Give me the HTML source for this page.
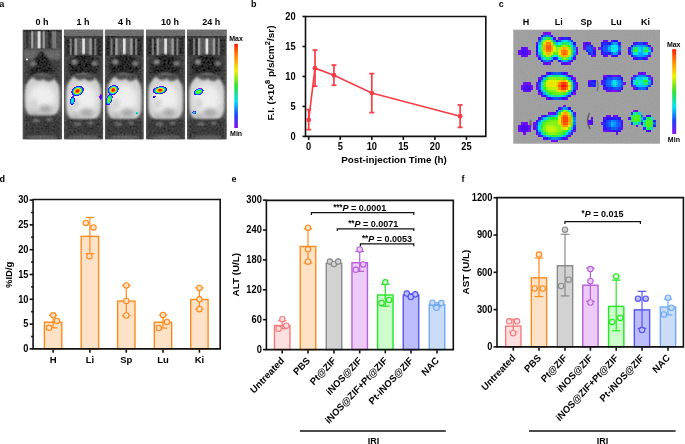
<!DOCTYPE html>
<html><head><meta charset="utf-8"><style>
html,body{margin:0;padding:0;background:#fff;width:685px;height:444px;overflow:hidden}
svg{display:block;font-family:"Liberation Sans", sans-serif;will-change:transform}
</style></head><body>
<svg width="685" height="444" viewBox="0 0 685 444">
<defs><filter id="cnoise" x="0" y="0" width="100%" height="100%"><feTurbulence type="fractalNoise" baseFrequency="0.6" numOctaves="1" seed="11" result="n"/><feColorMatrix in="n" type="matrix" values="0.33 0.33 0.33 0 0  0.33 0.33 0.33 0 0  0.33 0.33 0.33 0 0  0 0 0 0 1" result="m"/><feComposite in="SourceGraphic" in2="m" operator="arithmetic" k1="0" k2="1" k3="0.12" k4="-0.06" result="c"/><feGaussianBlur in="c" stdDeviation="0.35"/></filter><filter id="tex0" x="0" y="0" width="100%" height="100%"><feTurbulence type="fractalNoise" baseFrequency="0.5" numOctaves="2" seed="3" result="n"/><feColorMatrix in="n" type="matrix" values="0.33 0.33 0.33 0 0  0.33 0.33 0.33 0 0  0.33 0.33 0.33 0 0  0 0 0 0 1" result="m"/><feComposite in="SourceGraphic" in2="m" operator="arithmetic" k1="0" k2="1" k3="0.16" k4="-0.08" result="c"/><feGaussianBlur in="c" stdDeviation="0.4"/></filter><filter id="tex1" x="0" y="0" width="100%" height="100%"><feTurbulence type="fractalNoise" baseFrequency="0.5" numOctaves="2" seed="4" result="n"/><feColorMatrix in="n" type="matrix" values="0.33 0.33 0.33 0 0  0.33 0.33 0.33 0 0  0.33 0.33 0.33 0 0  0 0 0 0 1" result="m"/><feComposite in="SourceGraphic" in2="m" operator="arithmetic" k1="0" k2="1" k3="0.16" k4="-0.08" result="c"/><feGaussianBlur in="c" stdDeviation="0.4"/></filter><filter id="tex2" x="0" y="0" width="100%" height="100%"><feTurbulence type="fractalNoise" baseFrequency="0.5" numOctaves="2" seed="5" result="n"/><feColorMatrix in="n" type="matrix" values="0.33 0.33 0.33 0 0  0.33 0.33 0.33 0 0  0.33 0.33 0.33 0 0  0 0 0 0 1" result="m"/><feComposite in="SourceGraphic" in2="m" operator="arithmetic" k1="0" k2="1" k3="0.16" k4="-0.08" result="c"/><feGaussianBlur in="c" stdDeviation="0.4"/></filter><filter id="tex3" x="0" y="0" width="100%" height="100%"><feTurbulence type="fractalNoise" baseFrequency="0.5" numOctaves="2" seed="6" result="n"/><feColorMatrix in="n" type="matrix" values="0.33 0.33 0.33 0 0  0.33 0.33 0.33 0 0  0.33 0.33 0.33 0 0  0 0 0 0 1" result="m"/><feComposite in="SourceGraphic" in2="m" operator="arithmetic" k1="0" k2="1" k3="0.16" k4="-0.08" result="c"/><feGaussianBlur in="c" stdDeviation="0.4"/></filter><filter id="tex4" x="0" y="0" width="100%" height="100%"><feTurbulence type="fractalNoise" baseFrequency="0.5" numOctaves="2" seed="7" result="n"/><feColorMatrix in="n" type="matrix" values="0.33 0.33 0.33 0 0  0.33 0.33 0.33 0 0  0.33 0.33 0.33 0 0  0 0 0 0 1" result="m"/><feComposite in="SourceGraphic" in2="m" operator="arithmetic" k1="0" k2="1" k3="0.16" k4="-0.08" result="c"/><feGaussianBlur in="c" stdDeviation="0.4"/></filter>
<filter id="b04" x="-10%" y="-10%" width="120%" height="120%"><feGaussianBlur stdDeviation="0.35"/></filter>
<filter id="b06" x="-20%" y="-20%" width="140%" height="140%"><feGaussianBlur stdDeviation="0.6"/></filter>
<filter id="b05" x="-50%" y="-50%" width="200%" height="200%"><feGaussianBlur stdDeviation="0.5"/></filter>
<filter id="b1" x="-50%" y="-50%" width="200%" height="200%"><feGaussianBlur stdDeviation="1"/></filter>
<filter id="b2" x="-50%" y="-50%" width="200%" height="200%"><feGaussianBlur stdDeviation="2"/></filter>
<filter id="b3" x="-50%" y="-50%" width="200%" height="200%"><feGaussianBlur stdDeviation="3"/></filter>
<linearGradient id="jetv" x1="0" y1="0" x2="0" y2="1">
<stop offset="0" stop-color="#ff1a00"/><stop offset="0.15" stop-color="#ff8c00"/><stop offset="0.32" stop-color="#f0f000"/>
<stop offset="0.5" stop-color="#30e030"/><stop offset="0.68" stop-color="#00e0f0"/><stop offset="0.85" stop-color="#1a40ff"/><stop offset="1" stop-color="#8a10f0"/>
</linearGradient>
<pattern id="noise" width="4" height="4" patternUnits="userSpaceOnUse"><rect width="2" height="2" fill="#777"/><rect x="2" y="2" width="2" height="2" fill="#ccc"/></pattern>
</defs>
<text transform="translate(-0.70 7.30) scale(1 1.0)" font-size="9" text-anchor="start" font-weight="bold" >a</text>
<text transform="translate(251.00 7.30) scale(1 1.0)" font-size="9" text-anchor="start" font-weight="bold" >b</text>
<text transform="translate(498.80 7.30) scale(1 1.0)" font-size="9" text-anchor="start" font-weight="bold" >c</text>
<text transform="translate(-0.50 182.20) scale(1 1.0)" font-size="9" text-anchor="start" font-weight="bold" >d</text>
<text transform="translate(231.60 182.20) scale(1 1.0)" font-size="9" text-anchor="start" font-weight="bold" >e</text>
<text transform="translate(461.50 182.20) scale(1 1.0)" font-size="9" text-anchor="start" font-weight="bold" >f</text>
<clipPath id="mclip0"><rect x="22.5" y="29.5" width="39.5" height="110.0"/></clipPath>
<g clip-path="url(#mclip0)"><g filter="url(#tex0)">
<rect x="22.5" y="29.5" width="39.5" height="110.0" fill="#555"/>
<rect x="23.7" y="30.0" width="37.1" height="19.799999999999997" fill="#4c4c4c"/>
<rect x="23.7" y="30.0" width="37.1" height="2" fill="#333"/>
<rect x="26.15" y="31.2" width="2.2" height="17.299999999999997" fill="#303030" filter="url(#b05)"/>
<rect x="31.25" y="31.2" width="2.0" height="17.299999999999997" fill="#a8a8a8" filter="url(#b05)"/>
<rect x="34.75" y="31.2" width="2" height="17.299999999999997" fill="#606060" filter="url(#b05)"/>
<rect x="37.55" y="31.2" width="3.0" height="17.299999999999997" fill="#dedede" filter="url(#b05)"/>
<rect x="42.65" y="31.2" width="2.2" height="17.299999999999997" fill="#9a9a9a" filter="url(#b05)"/>
<rect x="48.40" y="31.2" width="2.5" height="17.299999999999997" fill="#2e2e2e" filter="url(#b05)"/>
<rect x="52.25" y="31.2" width="4" height="17.299999999999997" fill="#7a7a7a" filter="url(#b05)"/>
<rect x="24.0" y="49.8" width="36.5" height="34.2" fill="#404040" filter="url(#b1)"/>
<rect x="24.0" y="49.8" width="36.5" height="10" fill="#686868" filter="url(#b1)"/>
<path d="M41.6,50.3 L49.8,60.8 L54.2,76.0 L29.2,76.0 L33.2,60.8 Z" fill="#262626" filter="url(#b1)"/>
<ellipse cx="27.0" cy="59.5" rx="1" ry="1" fill="#fff"/>
<ellipse cx="33.2" cy="63.8" rx="3" ry="3" fill="#777" filter="url(#b1)"/>
<path d="M42.2,74.0 C51.2,74.0 59.5,81.0 59.5,92.0 L59.5,104.5 C59.5,113.5 52.2,118.5 42.2,118.5 C32.2,118.5 25.0,113.5 25.0,104.5 L25.0,92.0 C25.0,81.0 33.2,74.0 42.2,74.0 Z" fill="#cdcdcd" filter="url(#b1)"/>
<ellipse cx="42.2" cy="97.8" rx="13.8" ry="13.8" fill="#eeeeee" filter="url(#b3)"/>
<path d="M32.2,77.0 Q38.2,83.0 43.2,79.0 Q48.2,84.0 54.2,79.0 L54.2,74.0 L32.2,74.0 Z" fill="#505050" filter="url(#b1)"/>
<ellipse cx="45.2" cy="109.5" rx="7" ry="4.5" fill="#aaaaaa" filter="url(#b2)"/>
<ellipse cx="34.2" cy="113.5" rx="4" ry="3" fill="#b0b0b0" filter="url(#b2)"/>
<ellipse cx="34.2" cy="104.0" rx="3" ry="5" fill="#cccccc" filter="url(#b2)"/>
<rect x="24.0" y="115.5" width="36.5" height="24.0" fill="#3a3a3a" filter="url(#b1)"/>
<ellipse cx="36.2" cy="120.5" rx="4" ry="2" fill="#6a6a6a" filter="url(#b1)"/>
<ellipse cx="49.2" cy="119.5" rx="3" ry="1.6" fill="#777" filter="url(#b1)"/>
<ellipse cx="42.2" cy="137.5" rx="15.8" ry="2.5" fill="#606060" filter="url(#b1)"/>
</g></g>
<text transform="translate(41.90 24.70) scale(1 1.0)" font-size="9" text-anchor="middle" font-weight="bold" >0 h</text>
<clipPath id="mclip1"><rect x="63.8" y="29.5" width="39.5" height="110.0"/></clipPath>
<g clip-path="url(#mclip1)"><g filter="url(#tex1)">
<rect x="63.8" y="29.5" width="39.5" height="110.0" fill="#555"/>
<rect x="63.8" y="29.5" width="39.5" height="7.2" fill="#6e6e6e"/>
<rect x="63.8" y="36.1" width="39.5" height="1.2" fill="#333"/>
<rect x="65.0" y="37.3" width="37.1" height="19.200000000000003" fill="#3a3a3a"/>
<rect x="74.35" y="38.3" width="18" height="17.200000000000003" fill="#646464" filter="url(#b05)"/>
<rect x="66.30" y="38.5" width="2.5" height="16.700000000000003" fill="#2e2e2e" filter="url(#b05)"/>
<rect x="69.75" y="38.5" width="2.0" height="16.700000000000003" fill="#7a7a7a" filter="url(#b05)"/>
<rect x="72.50" y="38.5" width="1.5" height="16.700000000000003" fill="#303030" filter="url(#b05)"/>
<rect x="74.65" y="38.5" width="2.2" height="16.700000000000003" fill="#a0a0a0" filter="url(#b05)"/>
<rect x="78.55" y="38.5" width="2" height="16.700000000000003" fill="#5a5a5a" filter="url(#b05)"/>
<rect x="82.25" y="38.5" width="2.6" height="16.700000000000003" fill="#e4e4e4" filter="url(#b05)"/>
<rect x="86.15" y="38.5" width="2" height="16.700000000000003" fill="#5a5a5a" filter="url(#b05)"/>
<rect x="89.45" y="38.5" width="2.2" height="16.700000000000003" fill="#9a9a9a" filter="url(#b05)"/>
<rect x="92.60" y="38.5" width="1.5" height="16.700000000000003" fill="#303030" filter="url(#b05)"/>
<rect x="94.35" y="38.5" width="2.0" height="16.700000000000003" fill="#7a7a7a" filter="url(#b05)"/>
<rect x="97.80" y="38.5" width="2.5" height="16.700000000000003" fill="#2e2e2e" filter="url(#b05)"/>
<rect x="65.3" y="56.5" width="36.5" height="27.0" fill="#404040" filter="url(#b1)"/>
<ellipse cx="83.5" cy="66.5" rx="15" ry="12" fill="#262626" filter="url(#b1)"/>
<ellipse cx="74.5" cy="62.0" rx="3.2" ry="2.8" fill="#8a8a8a" filter="url(#b1)"/>
<ellipse cx="94.5" cy="63.5" rx="3.2" ry="2.8" fill="#7a7a7a" filter="url(#b1)"/>
<path d="M83.5,73.5 C92.5,73.5 100.8,80.5 100.8,91.5 L100.8,108.0 C100.8,117.0 93.5,122.0 83.5,122.0 C73.5,122.0 66.3,117.0 66.3,108.0 L66.3,91.5 C66.3,80.5 74.5,73.5 83.5,73.5 Z" fill="#cdcdcd" filter="url(#b1)"/>
<ellipse cx="83.5" cy="99.2" rx="13.8" ry="15.8" fill="#eeeeee" filter="url(#b3)"/>
<path d="M73.5,76.5 Q79.5,82.5 84.5,78.5 Q89.5,83.5 95.5,78.5 L95.5,73.5 L73.5,73.5 Z" fill="#505050" filter="url(#b1)"/>
<ellipse cx="86.5" cy="113.0" rx="7" ry="4.5" fill="#aaaaaa" filter="url(#b2)"/>
<ellipse cx="75.5" cy="117.0" rx="4" ry="3" fill="#b0b0b0" filter="url(#b2)"/>
<ellipse cx="75.5" cy="103.5" rx="3" ry="5" fill="#cccccc" filter="url(#b2)"/>
<rect x="65.3" y="119.0" width="36.5" height="20.5" fill="#3a3a3a" filter="url(#b1)"/>
<ellipse cx="77.5" cy="124.0" rx="4" ry="2" fill="#6a6a6a" filter="url(#b1)"/>
<ellipse cx="90.5" cy="123.0" rx="3" ry="1.6" fill="#777" filter="url(#b1)"/>
<ellipse cx="83.5" cy="137.5" rx="15.8" ry="2.5" fill="#606060" filter="url(#b1)"/>
</g></g>
<text transform="translate(83.00 24.70) scale(1 1.0)" font-size="9" text-anchor="middle" font-weight="bold" >1 h</text>
<clipPath id="mclip2"><rect x="104.8" y="29.5" width="39.000000000000014" height="110.0"/></clipPath>
<g clip-path="url(#mclip2)"><g filter="url(#tex2)">
<rect x="104.8" y="29.5" width="39.000000000000014" height="110.0" fill="#555"/>
<rect x="104.8" y="29.5" width="39.000000000000014" height="7.2" fill="#6e6e6e"/>
<rect x="104.8" y="36.1" width="39.000000000000014" height="1.2" fill="#333"/>
<rect x="106.0" y="37.3" width="36.600000000000016" height="19.200000000000003" fill="#3a3a3a"/>
<rect x="115.10" y="38.3" width="18" height="17.200000000000003" fill="#646464" filter="url(#b05)"/>
<rect x="107.05" y="38.5" width="2.5" height="16.700000000000003" fill="#2e2e2e" filter="url(#b05)"/>
<rect x="110.50" y="38.5" width="2.0" height="16.700000000000003" fill="#7a7a7a" filter="url(#b05)"/>
<rect x="113.25" y="38.5" width="1.5" height="16.700000000000003" fill="#303030" filter="url(#b05)"/>
<rect x="115.40" y="38.5" width="2.2" height="16.700000000000003" fill="#a0a0a0" filter="url(#b05)"/>
<rect x="119.30" y="38.5" width="2" height="16.700000000000003" fill="#5a5a5a" filter="url(#b05)"/>
<rect x="123.00" y="38.5" width="2.6" height="16.700000000000003" fill="#e4e4e4" filter="url(#b05)"/>
<rect x="126.90" y="38.5" width="2" height="16.700000000000003" fill="#5a5a5a" filter="url(#b05)"/>
<rect x="130.20" y="38.5" width="2.2" height="16.700000000000003" fill="#9a9a9a" filter="url(#b05)"/>
<rect x="133.35" y="38.5" width="1.5" height="16.700000000000003" fill="#303030" filter="url(#b05)"/>
<rect x="135.10" y="38.5" width="2.0" height="16.700000000000003" fill="#7a7a7a" filter="url(#b05)"/>
<rect x="138.55" y="38.5" width="2.5" height="16.700000000000003" fill="#2e2e2e" filter="url(#b05)"/>
<rect x="106.3" y="56.5" width="36.000000000000014" height="27.0" fill="#404040" filter="url(#b1)"/>
<ellipse cx="124.3" cy="66.5" rx="15" ry="12" fill="#262626" filter="url(#b1)"/>
<ellipse cx="115.3" cy="62.0" rx="3.2" ry="2.8" fill="#8a8a8a" filter="url(#b1)"/>
<ellipse cx="135.3" cy="63.5" rx="3.2" ry="2.8" fill="#7a7a7a" filter="url(#b1)"/>
<path d="M124.3,73.5 C133.3,73.5 141.3,80.5 141.3,91.5 L141.3,108.0 C141.3,117.0 134.3,122.0 124.3,122.0 C114.3,122.0 107.3,117.0 107.3,108.0 L107.3,91.5 C107.3,80.5 115.3,73.5 124.3,73.5 Z" fill="#cdcdcd" filter="url(#b1)"/>
<ellipse cx="124.3" cy="99.2" rx="13.5" ry="15.8" fill="#eeeeee" filter="url(#b3)"/>
<path d="M114.3,76.5 Q120.3,82.5 125.3,78.5 Q130.3,83.5 136.3,78.5 L136.3,73.5 L114.3,73.5 Z" fill="#505050" filter="url(#b1)"/>
<ellipse cx="127.3" cy="113.0" rx="7" ry="4.5" fill="#aaaaaa" filter="url(#b2)"/>
<ellipse cx="116.3" cy="117.0" rx="4" ry="3" fill="#b0b0b0" filter="url(#b2)"/>
<ellipse cx="116.3" cy="103.5" rx="3" ry="5" fill="#cccccc" filter="url(#b2)"/>
<rect x="106.3" y="119.0" width="36.000000000000014" height="20.5" fill="#3a3a3a" filter="url(#b1)"/>
<ellipse cx="118.3" cy="124.0" rx="4" ry="2" fill="#6a6a6a" filter="url(#b1)"/>
<ellipse cx="131.3" cy="123.0" rx="3" ry="1.6" fill="#777" filter="url(#b1)"/>
<ellipse cx="124.3" cy="137.5" rx="15.5" ry="2.5" fill="#606060" filter="url(#b1)"/>
</g></g>
<text transform="translate(124.40 24.70) scale(1 1.0)" font-size="9" text-anchor="middle" font-weight="bold" >4 h</text>
<clipPath id="mclip3"><rect x="146.0" y="29.5" width="39.19999999999999" height="110.0"/></clipPath>
<g clip-path="url(#mclip3)"><g filter="url(#tex3)">
<rect x="146.0" y="29.5" width="39.19999999999999" height="110.0" fill="#555"/>
<rect x="146.0" y="29.5" width="39.19999999999999" height="7.2" fill="#6e6e6e"/>
<rect x="146.0" y="36.1" width="39.19999999999999" height="1.2" fill="#333"/>
<rect x="147.2" y="37.3" width="36.79999999999999" height="19.200000000000003" fill="#3a3a3a"/>
<rect x="156.40" y="38.3" width="18" height="17.200000000000003" fill="#646464" filter="url(#b05)"/>
<rect x="148.35" y="38.5" width="2.5" height="16.700000000000003" fill="#2e2e2e" filter="url(#b05)"/>
<rect x="151.80" y="38.5" width="2.0" height="16.700000000000003" fill="#7a7a7a" filter="url(#b05)"/>
<rect x="154.55" y="38.5" width="1.5" height="16.700000000000003" fill="#303030" filter="url(#b05)"/>
<rect x="156.70" y="38.5" width="2.2" height="16.700000000000003" fill="#a0a0a0" filter="url(#b05)"/>
<rect x="160.60" y="38.5" width="2" height="16.700000000000003" fill="#5a5a5a" filter="url(#b05)"/>
<rect x="164.30" y="38.5" width="2.6" height="16.700000000000003" fill="#e4e4e4" filter="url(#b05)"/>
<rect x="168.20" y="38.5" width="2" height="16.700000000000003" fill="#5a5a5a" filter="url(#b05)"/>
<rect x="171.50" y="38.5" width="2.2" height="16.700000000000003" fill="#9a9a9a" filter="url(#b05)"/>
<rect x="174.65" y="38.5" width="1.5" height="16.700000000000003" fill="#303030" filter="url(#b05)"/>
<rect x="176.40" y="38.5" width="2.0" height="16.700000000000003" fill="#7a7a7a" filter="url(#b05)"/>
<rect x="179.85" y="38.5" width="2.5" height="16.700000000000003" fill="#2e2e2e" filter="url(#b05)"/>
<rect x="147.5" y="56.5" width="36.19999999999999" height="27.0" fill="#404040" filter="url(#b1)"/>
<ellipse cx="165.6" cy="66.5" rx="15" ry="12" fill="#262626" filter="url(#b1)"/>
<ellipse cx="156.6" cy="62.0" rx="3.2" ry="2.8" fill="#8a8a8a" filter="url(#b1)"/>
<ellipse cx="176.6" cy="63.5" rx="3.2" ry="2.8" fill="#7a7a7a" filter="url(#b1)"/>
<path d="M165.6,73.5 C174.6,73.5 182.7,80.5 182.7,91.5 L182.7,108.0 C182.7,117.0 175.6,122.0 165.6,122.0 C155.6,122.0 148.5,117.0 148.5,108.0 L148.5,91.5 C148.5,80.5 156.6,73.5 165.6,73.5 Z" fill="#cdcdcd" filter="url(#b1)"/>
<ellipse cx="165.6" cy="99.2" rx="13.6" ry="15.8" fill="#eeeeee" filter="url(#b3)"/>
<path d="M155.6,76.5 Q161.6,82.5 166.6,78.5 Q171.6,83.5 177.6,78.5 L177.6,73.5 L155.6,73.5 Z" fill="#505050" filter="url(#b1)"/>
<ellipse cx="168.6" cy="113.0" rx="7" ry="4.5" fill="#aaaaaa" filter="url(#b2)"/>
<ellipse cx="157.6" cy="117.0" rx="4" ry="3" fill="#b0b0b0" filter="url(#b2)"/>
<ellipse cx="157.6" cy="103.5" rx="3" ry="5" fill="#cccccc" filter="url(#b2)"/>
<rect x="147.5" y="119.0" width="36.19999999999999" height="20.5" fill="#3a3a3a" filter="url(#b1)"/>
<ellipse cx="159.6" cy="124.0" rx="4" ry="2" fill="#6a6a6a" filter="url(#b1)"/>
<ellipse cx="172.6" cy="123.0" rx="3" ry="1.6" fill="#777" filter="url(#b1)"/>
<ellipse cx="165.6" cy="137.5" rx="15.6" ry="2.5" fill="#606060" filter="url(#b1)"/>
</g></g>
<text transform="translate(170.00 24.70) scale(1 1.0)" font-size="9" text-anchor="middle" font-weight="bold" >10 h</text>
<clipPath id="mclip4"><rect x="187.0" y="29.5" width="39.80000000000001" height="110.0"/></clipPath>
<g clip-path="url(#mclip4)"><g filter="url(#tex4)">
<rect x="187.0" y="29.5" width="39.80000000000001" height="110.0" fill="#555"/>
<rect x="187.0" y="29.5" width="39.80000000000001" height="7.2" fill="#6e6e6e"/>
<rect x="187.0" y="36.1" width="39.80000000000001" height="1.2" fill="#333"/>
<rect x="188.2" y="37.3" width="37.40000000000001" height="19.200000000000003" fill="#3a3a3a"/>
<rect x="197.70" y="38.3" width="18" height="17.200000000000003" fill="#646464" filter="url(#b05)"/>
<rect x="189.65" y="38.5" width="2.5" height="16.700000000000003" fill="#2e2e2e" filter="url(#b05)"/>
<rect x="193.10" y="38.5" width="2.0" height="16.700000000000003" fill="#7a7a7a" filter="url(#b05)"/>
<rect x="195.85" y="38.5" width="1.5" height="16.700000000000003" fill="#303030" filter="url(#b05)"/>
<rect x="198.00" y="38.5" width="2.2" height="16.700000000000003" fill="#a0a0a0" filter="url(#b05)"/>
<rect x="201.90" y="38.5" width="2" height="16.700000000000003" fill="#5a5a5a" filter="url(#b05)"/>
<rect x="205.60" y="38.5" width="2.6" height="16.700000000000003" fill="#e4e4e4" filter="url(#b05)"/>
<rect x="209.50" y="38.5" width="2" height="16.700000000000003" fill="#5a5a5a" filter="url(#b05)"/>
<rect x="212.80" y="38.5" width="2.2" height="16.700000000000003" fill="#9a9a9a" filter="url(#b05)"/>
<rect x="215.95" y="38.5" width="1.5" height="16.700000000000003" fill="#303030" filter="url(#b05)"/>
<rect x="217.70" y="38.5" width="2.0" height="16.700000000000003" fill="#7a7a7a" filter="url(#b05)"/>
<rect x="221.15" y="38.5" width="2.5" height="16.700000000000003" fill="#2e2e2e" filter="url(#b05)"/>
<rect x="188.5" y="56.5" width="36.80000000000001" height="27.0" fill="#404040" filter="url(#b1)"/>
<ellipse cx="206.9" cy="66.5" rx="15" ry="12" fill="#262626" filter="url(#b1)"/>
<ellipse cx="197.9" cy="62.0" rx="3.2" ry="2.8" fill="#8a8a8a" filter="url(#b1)"/>
<ellipse cx="217.9" cy="63.5" rx="3.2" ry="2.8" fill="#7a7a7a" filter="url(#b1)"/>
<path d="M206.9,73.5 C215.9,73.5 224.3,80.5 224.3,91.5 L224.3,108.0 C224.3,117.0 216.9,122.0 206.9,122.0 C196.9,122.0 189.5,117.0 189.5,108.0 L189.5,91.5 C189.5,80.5 197.9,73.5 206.9,73.5 Z" fill="#cdcdcd" filter="url(#b1)"/>
<ellipse cx="206.9" cy="99.2" rx="13.9" ry="15.8" fill="#eeeeee" filter="url(#b3)"/>
<path d="M196.9,76.5 Q202.9,82.5 207.9,78.5 Q212.9,83.5 218.9,78.5 L218.9,73.5 L196.9,73.5 Z" fill="#505050" filter="url(#b1)"/>
<ellipse cx="209.9" cy="113.0" rx="7" ry="4.5" fill="#aaaaaa" filter="url(#b2)"/>
<ellipse cx="198.9" cy="117.0" rx="4" ry="3" fill="#b0b0b0" filter="url(#b2)"/>
<ellipse cx="198.9" cy="103.5" rx="3" ry="5" fill="#cccccc" filter="url(#b2)"/>
<rect x="188.5" y="119.0" width="36.80000000000001" height="20.5" fill="#3a3a3a" filter="url(#b1)"/>
<ellipse cx="200.9" cy="124.0" rx="4" ry="2" fill="#6a6a6a" filter="url(#b1)"/>
<ellipse cx="213.9" cy="123.0" rx="3" ry="1.6" fill="#777" filter="url(#b1)"/>
<ellipse cx="206.9" cy="137.5" rx="15.9" ry="2.5" fill="#606060" filter="url(#b1)"/>
</g></g>
<text transform="translate(211.30 24.70) scale(1 1.0)" font-size="9" text-anchor="middle" font-weight="bold" >24 h</text>
<g filter="url(#b06)" shape-rendering="crispEdges"><rect x="76.0" y="86.0" width="1.05" height="1.05" fill="#5f10f5"/><rect x="77.0" y="86.0" width="1.05" height="1.05" fill="#3510fc"/><rect x="78.0" y="86.0" width="1.05" height="1.05" fill="#2519ff"/><rect x="79.0" y="86.0" width="1.05" height="1.05" fill="#2712ff"/><rect x="80.0" y="86.0" width="1.05" height="1.05" fill="#4610f9"/><rect x="81.0" y="86.0" width="1.05" height="1.05" fill="#7510f1"/><rect x="74.0" y="87.0" width="1.05" height="1.05" fill="#5f10f5"/><rect x="75.0" y="87.0" width="1.05" height="1.05" fill="#1d3cff"/><rect x="76.0" y="87.0" width="1.05" height="1.05" fill="#08aaff"/><rect x="77.0" y="87.0" width="1.05" height="1.05" fill="#06e7dc"/><rect x="78.0" y="87.0" width="1.05" height="1.05" fill="#0ee9ae"/><rect x="79.0" y="87.0" width="1.05" height="1.05" fill="#06e7dd"/><rect x="80.0" y="87.0" width="1.05" height="1.05" fill="#08acff"/><rect x="81.0" y="87.0" width="1.05" height="1.05" fill="#1c40ff"/><rect x="82.0" y="87.0" width="1.05" height="1.05" fill="#5c10f6"/><rect x="73.0" y="88.0" width="1.05" height="1.05" fill="#4b10f8"/><rect x="74.0" y="88.0" width="1.05" height="1.05" fill="#0e7fff"/><rect x="75.0" y="88.0" width="1.05" height="1.05" fill="#15eb88"/><rect x="76.0" y="88.0" width="1.05" height="1.05" fill="#81f215"/><rect x="77.0" y="88.0" width="1.05" height="1.05" fill="#dff401"/><rect x="78.0" y="88.0" width="1.05" height="1.05" fill="#e6f200"/><rect x="79.0" y="88.0" width="1.05" height="1.05" fill="#a7f30d"/><rect x="80.0" y="88.0" width="1.05" height="1.05" fill="#30f026"/><rect x="81.0" y="88.0" width="1.05" height="1.05" fill="#02d5ff"/><rect x="82.0" y="88.0" width="1.05" height="1.05" fill="#202fff"/><rect x="83.0" y="88.0" width="1.05" height="1.05" fill="#7e10f0"/><rect x="72.0" y="89.0" width="1.05" height="1.05" fill="#6210f4"/><rect x="73.0" y="89.0" width="1.05" height="1.05" fill="#1171ff"/><rect x="74.0" y="89.0" width="1.05" height="1.05" fill="#1eed5c"/><rect x="75.0" y="89.0" width="1.05" height="1.05" fill="#e5f400"/><rect x="76.0" y="89.0" width="1.05" height="1.05" fill="#fe8e00"/><rect x="77.0" y="89.0" width="1.05" height="1.05" fill="#ff4d00"/><rect x="78.0" y="89.0" width="1.05" height="1.05" fill="#ff5f00"/><rect x="79.0" y="89.0" width="1.05" height="1.05" fill="#f6af00"/><rect x="80.0" y="89.0" width="1.05" height="1.05" fill="#baf309"/><rect x="81.0" y="89.0" width="1.05" height="1.05" fill="#1aec72"/><rect x="82.0" y="89.0" width="1.05" height="1.05" fill="#126dff"/><rect x="83.0" y="89.0" width="1.05" height="1.05" fill="#6410f4"/><rect x="72.0" y="90.0" width="1.05" height="1.05" fill="#251cff"/><rect x="73.0" y="90.0" width="1.05" height="1.05" fill="#03e6ee"/><rect x="74.0" y="90.0" width="1.05" height="1.05" fill="#a4f30d"/><rect x="75.0" y="90.0" width="1.05" height="1.05" fill="#fe8c00"/><rect x="76.0" y="90.0" width="1.05" height="1.05" fill="#ff1400"/><rect x="77.0" y="90.0" width="1.05" height="1.05" fill="#ff1400"/><rect x="78.0" y="90.0" width="1.05" height="1.05" fill="#ff1400"/><rect x="79.0" y="90.0" width="1.05" height="1.05" fill="#ff7600"/><rect x="80.0" y="90.0" width="1.05" height="1.05" fill="#e6f000"/><rect x="81.0" y="90.0" width="1.05" height="1.05" fill="#21ee49"/><rect x="82.0" y="90.0" width="1.05" height="1.05" fill="#1074ff"/><rect x="83.0" y="90.0" width="1.05" height="1.05" fill="#6610f4"/><rect x="71.0" y="91.0" width="1.05" height="1.05" fill="#7d10f0"/><rect x="72.0" y="91.0" width="1.05" height="1.05" fill="#194dff"/><rect x="73.0" y="91.0" width="1.05" height="1.05" fill="#15eb89"/><rect x="74.0" y="91.0" width="1.05" height="1.05" fill="#e4f400"/><rect x="75.0" y="91.0" width="1.05" height="1.05" fill="#ff6700"/><rect x="76.0" y="91.0" width="1.05" height="1.05" fill="#ff1400"/><rect x="77.0" y="91.0" width="1.05" height="1.05" fill="#ff1400"/><rect x="78.0" y="91.0" width="1.05" height="1.05" fill="#ff1400"/><rect x="79.0" y="91.0" width="1.05" height="1.05" fill="#fc9500"/><rect x="80.0" y="91.0" width="1.05" height="1.05" fill="#b6f309"/><rect x="81.0" y="91.0" width="1.05" height="1.05" fill="#0fe9aa"/><rect x="82.0" y="91.0" width="1.05" height="1.05" fill="#1c40ff"/><rect x="71.0" y="92.0" width="1.05" height="1.05" fill="#7a10f0"/><rect x="72.0" y="92.0" width="1.05" height="1.05" fill="#1a48ff"/><rect x="73.0" y="92.0" width="1.05" height="1.05" fill="#0ee9ae"/><rect x="74.0" y="92.0" width="1.05" height="1.05" fill="#abf30c"/><rect x="75.0" y="92.0" width="1.05" height="1.05" fill="#f7aa00"/><rect x="76.0" y="92.0" width="1.05" height="1.05" fill="#ff5900"/><rect x="77.0" y="92.0" width="1.05" height="1.05" fill="#ff5000"/><rect x="78.0" y="92.0" width="1.05" height="1.05" fill="#fc9400"/><rect x="79.0" y="92.0" width="1.05" height="1.05" fill="#e6f100"/><rect x="80.0" y="92.0" width="1.05" height="1.05" fill="#28f027"/><rect x="81.0" y="92.0" width="1.05" height="1.05" fill="#0b99ff"/><rect x="82.0" y="92.0" width="1.05" height="1.05" fill="#4a10f9"/><rect x="72.0" y="93.0" width="1.05" height="1.05" fill="#2711ff"/><rect x="73.0" y="93.0" width="1.05" height="1.05" fill="#07b4ff"/><rect x="74.0" y="93.0" width="1.05" height="1.05" fill="#23ee3d"/><rect x="75.0" y="93.0" width="1.05" height="1.05" fill="#9ff30e"/><rect x="76.0" y="93.0" width="1.05" height="1.05" fill="#e6f200"/><rect x="77.0" y="93.0" width="1.05" height="1.05" fill="#e2f400"/><rect x="78.0" y="93.0" width="1.05" height="1.05" fill="#8df212"/><rect x="79.0" y="93.0" width="1.05" height="1.05" fill="#1ded5e"/><rect x="80.0" y="93.0" width="1.05" height="1.05" fill="#0aa1ff"/><rect x="81.0" y="93.0" width="1.05" height="1.05" fill="#3410fc"/><rect x="72.0" y="94.0" width="1.05" height="1.05" fill="#6d10f3"/><rect x="73.0" y="94.0" width="1.05" height="1.05" fill="#2229ff"/><rect x="74.0" y="94.0" width="1.05" height="1.05" fill="#0b98ff"/><rect x="75.0" y="94.0" width="1.05" height="1.05" fill="#03e6ee"/><rect x="76.0" y="94.0" width="1.05" height="1.05" fill="#0ee9af"/><rect x="77.0" y="94.0" width="1.05" height="1.05" fill="#09e8cd"/><rect x="78.0" y="94.0" width="1.05" height="1.05" fill="#05bdff"/><rect x="79.0" y="94.0" width="1.05" height="1.05" fill="#1853ff"/><rect x="80.0" y="94.0" width="1.05" height="1.05" fill="#4d10f8"/><rect x="73.0" y="95.0" width="1.05" height="1.05" fill="#7f10f0"/><rect x="74.0" y="95.0" width="1.05" height="1.05" fill="#4f10f8"/><rect x="75.0" y="95.0" width="1.05" height="1.05" fill="#2a10fe"/><rect x="76.0" y="95.0" width="1.05" height="1.05" fill="#251aff"/><rect x="77.0" y="95.0" width="1.05" height="1.05" fill="#2e10fd"/><rect x="78.0" y="95.0" width="1.05" height="1.05" fill="#5610f7"/></g>
<g filter="url(#b06)" shape-rendering="crispEdges"><rect x="72.0" y="96.0" width="1.05" height="1.05" fill="#6710f4"/><rect x="73.0" y="96.0" width="1.05" height="1.05" fill="#7610f1"/><rect x="71.0" y="97.0" width="1.05" height="1.05" fill="#4010fa"/><rect x="72.0" y="97.0" width="1.05" height="1.05" fill="#165cff"/><rect x="73.0" y="97.0" width="1.05" height="1.05" fill="#1f34ff"/><rect x="71.0" y="98.0" width="1.05" height="1.05" fill="#1077ff"/><rect x="72.0" y="98.0" width="1.05" height="1.05" fill="#02d3ff"/><rect x="73.0" y="98.0" width="1.05" height="1.05" fill="#0aa0ff"/><rect x="74.0" y="98.0" width="1.05" height="1.05" fill="#5510f7"/><rect x="70.0" y="99.0" width="1.05" height="1.05" fill="#4110fa"/><rect x="71.0" y="99.0" width="1.05" height="1.05" fill="#02d1ff"/><rect x="72.0" y="99.0" width="1.05" height="1.05" fill="#08e8cf"/><rect x="73.0" y="99.0" width="1.05" height="1.05" fill="#01d9ff"/><rect x="74.0" y="99.0" width="1.05" height="1.05" fill="#3210fd"/><rect x="70.0" y="100.0" width="1.05" height="1.05" fill="#212dff"/><rect x="71.0" y="100.0" width="1.05" height="1.05" fill="#04e7e7"/><rect x="72.0" y="100.0" width="1.05" height="1.05" fill="#0be8c3"/><rect x="73.0" y="100.0" width="1.05" height="1.05" fill="#00e6fd"/><rect x="74.0" y="100.0" width="1.05" height="1.05" fill="#3010fd"/><rect x="70.0" y="101.0" width="1.05" height="1.05" fill="#1c41ff"/><rect x="71.0" y="101.0" width="1.05" height="1.05" fill="#05e7e2"/><rect x="72.0" y="101.0" width="1.05" height="1.05" fill="#0ae8c5"/><rect x="73.0" y="101.0" width="1.05" height="1.05" fill="#02d3ff"/><rect x="74.0" y="101.0" width="1.05" height="1.05" fill="#4e10f8"/><rect x="70.0" y="102.0" width="1.05" height="1.05" fill="#212aff"/><rect x="71.0" y="102.0" width="1.05" height="1.05" fill="#01ddff"/><rect x="72.0" y="102.0" width="1.05" height="1.05" fill="#04e7e7"/><rect x="73.0" y="102.0" width="1.05" height="1.05" fill="#0c92ff"/><rect x="70.0" y="103.0" width="1.05" height="1.05" fill="#4610f9"/><rect x="71.0" y="103.0" width="1.05" height="1.05" fill="#0c91ff"/><rect x="72.0" y="103.0" width="1.05" height="1.05" fill="#09a4ff"/><rect x="73.0" y="103.0" width="1.05" height="1.05" fill="#241fff"/><rect x="71.0" y="104.0" width="1.05" height="1.05" fill="#2711ff"/><rect x="72.0" y="104.0" width="1.05" height="1.05" fill="#2615ff"/></g>
<g filter="url(#b06)" shape-rendering="crispEdges"><rect x="100.0" y="94.0" width="1.05" height="1.05" fill="#7010f2"/><rect x="100.0" y="95.0" width="1.05" height="1.05" fill="#4c10f8"/><rect x="101.0" y="95.0" width="1.05" height="1.05" fill="#5610f6"/><rect x="99.0" y="96.0" width="1.05" height="1.05" fill="#6d10f3"/><rect x="100.0" y="96.0" width="1.05" height="1.05" fill="#4510f9"/><rect x="101.0" y="96.0" width="1.05" height="1.05" fill="#4910f9"/><rect x="99.0" y="97.0" width="1.05" height="1.05" fill="#6d10f3"/><rect x="100.0" y="97.0" width="1.05" height="1.05" fill="#4510f9"/><rect x="101.0" y="97.0" width="1.05" height="1.05" fill="#4910f9"/><rect x="100.0" y="98.0" width="1.05" height="1.05" fill="#4c10f8"/><rect x="101.0" y="98.0" width="1.05" height="1.05" fill="#5610f6"/><rect x="100.0" y="99.0" width="1.05" height="1.05" fill="#7010f2"/></g>
<g filter="url(#b06)" shape-rendering="crispEdges"><rect x="112.0" y="85.0" width="1.05" height="1.05" fill="#5c10f6"/><rect x="113.0" y="85.0" width="1.05" height="1.05" fill="#3e10fb"/><rect x="114.0" y="85.0" width="1.05" height="1.05" fill="#3e10fb"/><rect x="115.0" y="85.0" width="1.05" height="1.05" fill="#5b10f6"/><rect x="110.0" y="86.0" width="1.05" height="1.05" fill="#5310f7"/><rect x="111.0" y="86.0" width="1.05" height="1.05" fill="#1854ff"/><rect x="112.0" y="86.0" width="1.05" height="1.05" fill="#05bfff"/><rect x="113.0" y="86.0" width="1.05" height="1.05" fill="#04e7e4"/><rect x="114.0" y="86.0" width="1.05" height="1.05" fill="#00e6fc"/><rect x="115.0" y="86.0" width="1.05" height="1.05" fill="#0b99ff"/><rect x="116.0" y="86.0" width="1.05" height="1.05" fill="#2229ff"/><rect x="117.0" y="86.0" width="1.05" height="1.05" fill="#7310f2"/><rect x="109.0" y="87.0" width="1.05" height="1.05" fill="#4610f9"/><rect x="110.0" y="87.0" width="1.05" height="1.05" fill="#0a9fff"/><rect x="111.0" y="87.0" width="1.05" height="1.05" fill="#27ef28"/><rect x="112.0" y="87.0" width="1.05" height="1.05" fill="#bbf308"/><rect x="113.0" y="87.0" width="1.05" height="1.05" fill="#e7f000"/><rect x="114.0" y="87.0" width="1.05" height="1.05" fill="#baf309"/><rect x="115.0" y="87.0" width="1.05" height="1.05" fill="#3df023"/><rect x="116.0" y="87.0" width="1.05" height="1.05" fill="#03d0ff"/><rect x="117.0" y="87.0" width="1.05" height="1.05" fill="#251bff"/><rect x="108.0" y="88.0" width="1.05" height="1.05" fill="#6c10f3"/><rect x="109.0" y="88.0" width="1.05" height="1.05" fill="#0f7aff"/><rect x="110.0" y="88.0" width="1.05" height="1.05" fill="#3df023"/><rect x="111.0" y="88.0" width="1.05" height="1.05" fill="#f1c500"/><rect x="112.0" y="88.0" width="1.05" height="1.05" fill="#ff5e00"/><rect x="113.0" y="88.0" width="1.05" height="1.05" fill="#ff4400"/><rect x="114.0" y="88.0" width="1.05" height="1.05" fill="#ff8300"/><rect x="115.0" y="88.0" width="1.05" height="1.05" fill="#e8ea00"/><rect x="116.0" y="88.0" width="1.05" height="1.05" fill="#22ee46"/><rect x="117.0" y="88.0" width="1.05" height="1.05" fill="#1369ff"/><rect x="118.0" y="88.0" width="1.05" height="1.05" fill="#7410f2"/><rect x="108.0" y="89.0" width="1.05" height="1.05" fill="#3010fd"/><rect x="109.0" y="89.0" width="1.05" height="1.05" fill="#04e7e6"/><rect x="110.0" y="89.0" width="1.05" height="1.05" fill="#d9f402"/><rect x="111.0" y="89.0" width="1.05" height="1.05" fill="#ff5c00"/><rect x="112.0" y="89.0" width="1.05" height="1.05" fill="#ff1400"/><rect x="113.0" y="89.0" width="1.05" height="1.05" fill="#ff1400"/><rect x="114.0" y="89.0" width="1.05" height="1.05" fill="#ff1c00"/><rect x="115.0" y="89.0" width="1.05" height="1.05" fill="#f6b000"/><rect x="116.0" y="89.0" width="1.05" height="1.05" fill="#4ff11f"/><rect x="117.0" y="89.0" width="1.05" height="1.05" fill="#0e82ff"/><rect x="118.0" y="89.0" width="1.05" height="1.05" fill="#6e10f3"/><rect x="108.0" y="90.0" width="1.05" height="1.05" fill="#2229ff"/><rect x="109.0" y="90.0" width="1.05" height="1.05" fill="#12ea9d"/><rect x="110.0" y="90.0" width="1.05" height="1.05" fill="#e8eb00"/><rect x="111.0" y="90.0" width="1.05" height="1.05" fill="#ff5400"/><rect x="112.0" y="90.0" width="1.05" height="1.05" fill="#ff1400"/><rect x="113.0" y="90.0" width="1.05" height="1.05" fill="#ff1400"/><rect x="114.0" y="90.0" width="1.05" height="1.05" fill="#ff2100"/><rect x="115.0" y="90.0" width="1.05" height="1.05" fill="#f3bd00"/><rect x="116.0" y="90.0" width="1.05" height="1.05" fill="#27ef29"/><rect x="117.0" y="90.0" width="1.05" height="1.05" fill="#1659ff"/><rect x="108.0" y="91.0" width="1.05" height="1.05" fill="#2519ff"/><rect x="109.0" y="91.0" width="1.05" height="1.05" fill="#04e7e4"/><rect x="110.0" y="91.0" width="1.05" height="1.05" fill="#a0f30e"/><rect x="111.0" y="91.0" width="1.05" height="1.05" fill="#f7aa00"/><rect x="112.0" y="91.0" width="1.05" height="1.05" fill="#ff5400"/><rect x="113.0" y="91.0" width="1.05" height="1.05" fill="#ff4800"/><rect x="114.0" y="91.0" width="1.05" height="1.05" fill="#fc9700"/><rect x="115.0" y="91.0" width="1.05" height="1.05" fill="#a9f30c"/><rect x="116.0" y="91.0" width="1.05" height="1.05" fill="#01deff"/><rect x="117.0" y="91.0" width="1.05" height="1.05" fill="#3510fc"/><rect x="108.0" y="92.0" width="1.05" height="1.05" fill="#5310f7"/><rect x="109.0" y="92.0" width="1.05" height="1.05" fill="#0e84ff"/><rect x="110.0" y="92.0" width="1.05" height="1.05" fill="#1aec6f"/><rect x="111.0" y="92.0" width="1.05" height="1.05" fill="#8ff212"/><rect x="112.0" y="92.0" width="1.05" height="1.05" fill="#e5f400"/><rect x="113.0" y="92.0" width="1.05" height="1.05" fill="#ddf401"/><rect x="114.0" y="92.0" width="1.05" height="1.05" fill="#6bf119"/><rect x="115.0" y="92.0" width="1.05" height="1.05" fill="#03e6eb"/><rect x="116.0" y="92.0" width="1.05" height="1.05" fill="#212eff"/><rect x="109.0" y="93.0" width="1.05" height="1.05" fill="#3b10fb"/><rect x="110.0" y="93.0" width="1.05" height="1.05" fill="#126eff"/><rect x="111.0" y="93.0" width="1.05" height="1.05" fill="#03ceff"/><rect x="112.0" y="93.0" width="1.05" height="1.05" fill="#05e7e0"/><rect x="113.0" y="93.0" width="1.05" height="1.05" fill="#01ddff"/><rect x="114.0" y="93.0" width="1.05" height="1.05" fill="#0e82ff"/><rect x="115.0" y="93.0" width="1.05" height="1.05" fill="#2c10fe"/><rect x="110.0" y="94.0" width="1.05" height="1.05" fill="#6d10f3"/><rect x="111.0" y="94.0" width="1.05" height="1.05" fill="#4710f9"/><rect x="112.0" y="94.0" width="1.05" height="1.05" fill="#3a10fb"/><rect x="113.0" y="94.0" width="1.05" height="1.05" fill="#4d10f8"/><rect x="114.0" y="94.0" width="1.05" height="1.05" fill="#7710f1"/></g>
<g filter="url(#b06)" shape-rendering="crispEdges"><rect x="109.0" y="94.0" width="1.05" height="1.05" fill="#4410fa"/><rect x="110.0" y="94.0" width="1.05" height="1.05" fill="#241eff"/><rect x="111.0" y="94.0" width="1.05" height="1.05" fill="#5310f7"/><rect x="108.0" y="95.0" width="1.05" height="1.05" fill="#2e10fd"/><rect x="109.0" y="95.0" width="1.05" height="1.05" fill="#08abff"/><rect x="110.0" y="95.0" width="1.05" height="1.05" fill="#04c7ff"/><rect x="111.0" y="95.0" width="1.05" height="1.05" fill="#1a4aff"/><rect x="107.0" y="96.0" width="1.05" height="1.05" fill="#6510f4"/><rect x="108.0" y="96.0" width="1.05" height="1.05" fill="#05c2ff"/><rect x="109.0" y="96.0" width="1.05" height="1.05" fill="#20ee4d"/><rect x="110.0" y="96.0" width="1.05" height="1.05" fill="#1eed5d"/><rect x="111.0" y="96.0" width="1.05" height="1.05" fill="#09a2ff"/><rect x="112.0" y="96.0" width="1.05" height="1.05" fill="#7e10f0"/><rect x="107.0" y="97.0" width="1.05" height="1.05" fill="#1758ff"/><rect x="108.0" y="97.0" width="1.05" height="1.05" fill="#23ee40"/><rect x="109.0" y="97.0" width="1.05" height="1.05" fill="#63f11b"/><rect x="110.0" y="97.0" width="1.05" height="1.05" fill="#46f021"/><rect x="111.0" y="97.0" width="1.05" height="1.05" fill="#03cbff"/><rect x="112.0" y="97.0" width="1.05" height="1.05" fill="#7d10f0"/><rect x="106.0" y="98.0" width="1.05" height="1.05" fill="#7b10f0"/><rect x="107.0" y="98.0" width="1.05" height="1.05" fill="#00e4ff"/><rect x="108.0" y="98.0" width="1.05" height="1.05" fill="#61f11b"/><rect x="109.0" y="98.0" width="1.05" height="1.05" fill="#7af216"/><rect x="110.0" y="98.0" width="1.05" height="1.05" fill="#58f11d"/><rect x="111.0" y="98.0" width="1.05" height="1.05" fill="#05c0ff"/><rect x="106.0" y="99.0" width="1.05" height="1.05" fill="#3710fc"/><rect x="107.0" y="99.0" width="1.05" height="1.05" fill="#1aec6e"/><rect x="108.0" y="99.0" width="1.05" height="1.05" fill="#76f217"/><rect x="109.0" y="99.0" width="1.05" height="1.05" fill="#7cf216"/><rect x="110.0" y="99.0" width="1.05" height="1.05" fill="#49f021"/><rect x="111.0" y="99.0" width="1.05" height="1.05" fill="#0e82ff"/><rect x="106.0" y="100.0" width="1.05" height="1.05" fill="#1e3aff"/><rect x="107.0" y="100.0" width="1.05" height="1.05" fill="#25ef35"/><rect x="108.0" y="100.0" width="1.05" height="1.05" fill="#76f217"/><rect x="109.0" y="100.0" width="1.05" height="1.05" fill="#75f217"/><rect x="110.0" y="100.0" width="1.05" height="1.05" fill="#20ee52"/><rect x="111.0" y="100.0" width="1.05" height="1.05" fill="#241eff"/><rect x="106.0" y="101.0" width="1.05" height="1.05" fill="#1851ff"/><rect x="107.0" y="101.0" width="1.05" height="1.05" fill="#22ee46"/><rect x="108.0" y="101.0" width="1.05" height="1.05" fill="#63f11b"/><rect x="109.0" y="101.0" width="1.05" height="1.05" fill="#48f021"/><rect x="110.0" y="101.0" width="1.05" height="1.05" fill="#02d2ff"/><rect x="111.0" y="101.0" width="1.05" height="1.05" fill="#7810f1"/><rect x="106.0" y="102.0" width="1.05" height="1.05" fill="#1e3bff"/><rect x="107.0" y="102.0" width="1.05" height="1.05" fill="#10eaa8"/><rect x="108.0" y="102.0" width="1.05" height="1.05" fill="#24ef39"/><rect x="109.0" y="102.0" width="1.05" height="1.05" fill="#0de9b8"/><rect x="110.0" y="102.0" width="1.05" height="1.05" fill="#212aff"/><rect x="106.0" y="103.0" width="1.05" height="1.05" fill="#3710fc"/><rect x="107.0" y="103.0" width="1.05" height="1.05" fill="#09a6ff"/><rect x="108.0" y="103.0" width="1.05" height="1.05" fill="#04caff"/><rect x="109.0" y="103.0" width="1.05" height="1.05" fill="#1853ff"/><rect x="106.0" y="104.0" width="1.05" height="1.05" fill="#7a10f0"/><rect x="107.0" y="104.0" width="1.05" height="1.05" fill="#2710ff"/><rect x="108.0" y="104.0" width="1.05" height="1.05" fill="#2910fe"/><rect x="109.0" y="104.0" width="1.05" height="1.05" fill="#7e10f0"/></g>
<g filter="url(#b06)" shape-rendering="crispEdges"><rect x="136.0" y="112.0" width="1.05" height="1.05" fill="#04e7e5"/><rect x="137.0" y="112.0" width="1.05" height="1.05" fill="#1bec6d"/><rect x="136.0" y="113.0" width="1.05" height="1.05" fill="#0f7bff"/><rect x="137.0" y="113.0" width="1.05" height="1.05" fill="#04e7e5"/></g>
<g filter="url(#b06)" shape-rendering="crispEdges"><rect x="159.0" y="86.0" width="1.05" height="1.05" fill="#6e10f3"/><rect x="160.0" y="86.0" width="1.05" height="1.05" fill="#5710f6"/><rect x="161.0" y="86.0" width="1.05" height="1.05" fill="#4e10f8"/><rect x="162.0" y="86.0" width="1.05" height="1.05" fill="#5810f6"/><rect x="163.0" y="86.0" width="1.05" height="1.05" fill="#7010f2"/><rect x="156.0" y="87.0" width="1.05" height="1.05" fill="#5c10f6"/><rect x="157.0" y="87.0" width="1.05" height="1.05" fill="#1f33ff"/><rect x="158.0" y="87.0" width="1.05" height="1.05" fill="#0b98ff"/><rect x="159.0" y="87.0" width="1.05" height="1.05" fill="#02e6f4"/><rect x="160.0" y="87.0" width="1.05" height="1.05" fill="#0fe9ab"/><rect x="161.0" y="87.0" width="1.05" height="1.05" fill="#0fe9ae"/><rect x="162.0" y="87.0" width="1.05" height="1.05" fill="#01e6f4"/><rect x="163.0" y="87.0" width="1.05" height="1.05" fill="#0aa0ff"/><rect x="164.0" y="87.0" width="1.05" height="1.05" fill="#1c40ff"/><rect x="165.0" y="87.0" width="1.05" height="1.05" fill="#5010f8"/><rect x="154.0" y="88.0" width="1.05" height="1.05" fill="#7910f1"/><rect x="155.0" y="88.0" width="1.05" height="1.05" fill="#2228ff"/><rect x="156.0" y="88.0" width="1.05" height="1.05" fill="#04c5ff"/><rect x="157.0" y="88.0" width="1.05" height="1.05" fill="#2ef026"/><rect x="158.0" y="88.0" width="1.05" height="1.05" fill="#ccf405"/><rect x="159.0" y="88.0" width="1.05" height="1.05" fill="#f0c700"/><rect x="160.0" y="88.0" width="1.05" height="1.05" fill="#f5b500"/><rect x="161.0" y="88.0" width="1.05" height="1.05" fill="#eecf00"/><rect x="162.0" y="88.0" width="1.05" height="1.05" fill="#c8f406"/><rect x="163.0" y="88.0" width="1.05" height="1.05" fill="#4af020"/><rect x="164.0" y="88.0" width="1.05" height="1.05" fill="#05e7df"/><rect x="165.0" y="88.0" width="1.05" height="1.05" fill="#165bff"/><rect x="166.0" y="88.0" width="1.05" height="1.05" fill="#5910f6"/><rect x="153.0" y="89.0" width="1.05" height="1.05" fill="#7d10f0"/><rect x="154.0" y="89.0" width="1.05" height="1.05" fill="#2031ff"/><rect x="155.0" y="89.0" width="1.05" height="1.05" fill="#00e6fd"/><rect x="156.0" y="89.0" width="1.05" height="1.05" fill="#68f11a"/><rect x="157.0" y="89.0" width="1.05" height="1.05" fill="#eecf00"/><rect x="158.0" y="89.0" width="1.05" height="1.05" fill="#ff5f00"/><rect x="159.0" y="89.0" width="1.05" height="1.05" fill="#ff1400"/><rect x="160.0" y="89.0" width="1.05" height="1.05" fill="#ff1400"/><rect x="161.0" y="89.0" width="1.05" height="1.05" fill="#ff3300"/><rect x="162.0" y="89.0" width="1.05" height="1.05" fill="#fa9e00"/><rect x="163.0" y="89.0" width="1.05" height="1.05" fill="#caf405"/><rect x="164.0" y="89.0" width="1.05" height="1.05" fill="#20ee4e"/><rect x="165.0" y="89.0" width="1.05" height="1.05" fill="#0c91ff"/><rect x="166.0" y="89.0" width="1.05" height="1.05" fill="#4310fa"/><rect x="153.0" y="90.0" width="1.05" height="1.05" fill="#4a10f9"/><rect x="154.0" y="90.0" width="1.05" height="1.05" fill="#0d88ff"/><rect x="155.0" y="90.0" width="1.05" height="1.05" fill="#1eed59"/><rect x="156.0" y="90.0" width="1.05" height="1.05" fill="#bef308"/><rect x="157.0" y="90.0" width="1.05" height="1.05" fill="#f7aa00"/><rect x="158.0" y="90.0" width="1.05" height="1.05" fill="#ff3700"/><rect x="159.0" y="90.0" width="1.05" height="1.05" fill="#ff1400"/><rect x="160.0" y="90.0" width="1.05" height="1.05" fill="#ff1400"/><rect x="161.0" y="90.0" width="1.05" height="1.05" fill="#ff1600"/><rect x="162.0" y="90.0" width="1.05" height="1.05" fill="#fc9500"/><rect x="163.0" y="90.0" width="1.05" height="1.05" fill="#b6f30a"/><rect x="164.0" y="90.0" width="1.05" height="1.05" fill="#12ea9a"/><rect x="165.0" y="90.0" width="1.05" height="1.05" fill="#155eff"/><rect x="166.0" y="90.0" width="1.05" height="1.05" fill="#6510f4"/><rect x="153.0" y="91.0" width="1.05" height="1.05" fill="#4a10f9"/><rect x="154.0" y="91.0" width="1.05" height="1.05" fill="#0f7cff"/><rect x="155.0" y="91.0" width="1.05" height="1.05" fill="#14eb90"/><rect x="156.0" y="91.0" width="1.05" height="1.05" fill="#81f215"/><rect x="157.0" y="91.0" width="1.05" height="1.05" fill="#eae300"/><rect x="158.0" y="91.0" width="1.05" height="1.05" fill="#faa000"/><rect x="159.0" y="91.0" width="1.05" height="1.05" fill="#ff6a00"/><rect x="160.0" y="91.0" width="1.05" height="1.05" fill="#ff6900"/><rect x="161.0" y="91.0" width="1.05" height="1.05" fill="#f8a700"/><rect x="162.0" y="91.0" width="1.05" height="1.05" fill="#c2f407"/><rect x="163.0" y="91.0" width="1.05" height="1.05" fill="#19ec78"/><rect x="164.0" y="91.0" width="1.05" height="1.05" fill="#0f79ff"/><rect x="165.0" y="91.0" width="1.05" height="1.05" fill="#4d10f8"/><rect x="153.0" y="92.0" width="1.05" height="1.05" fill="#7b10f0"/><rect x="154.0" y="92.0" width="1.05" height="1.05" fill="#2614ff"/><rect x="155.0" y="92.0" width="1.05" height="1.05" fill="#0c8fff"/><rect x="156.0" y="92.0" width="1.05" height="1.05" fill="#09e8c9"/><rect x="157.0" y="92.0" width="1.05" height="1.05" fill="#26ef32"/><rect x="158.0" y="92.0" width="1.05" height="1.05" fill="#5bf11d"/><rect x="159.0" y="92.0" width="1.05" height="1.05" fill="#6ff118"/><rect x="160.0" y="92.0" width="1.05" height="1.05" fill="#4df020"/><rect x="161.0" y="92.0" width="1.05" height="1.05" fill="#17eb81"/><rect x="162.0" y="92.0" width="1.05" height="1.05" fill="#07afff"/><rect x="163.0" y="92.0" width="1.05" height="1.05" fill="#212bff"/><rect x="164.0" y="92.0" width="1.05" height="1.05" fill="#6e10f3"/><rect x="155.0" y="93.0" width="1.05" height="1.05" fill="#5d10f5"/><rect x="156.0" y="93.0" width="1.05" height="1.05" fill="#2b10fe"/><rect x="157.0" y="93.0" width="1.05" height="1.05" fill="#1e38ff"/><rect x="158.0" y="93.0" width="1.05" height="1.05" fill="#194dff"/><rect x="159.0" y="93.0" width="1.05" height="1.05" fill="#1b44ff"/><rect x="160.0" y="93.0" width="1.05" height="1.05" fill="#2420ff"/><rect x="161.0" y="93.0" width="1.05" height="1.05" fill="#4910f9"/><rect x="162.0" y="93.0" width="1.05" height="1.05" fill="#7d10f0"/></g>
<g filter="url(#b06)" shape-rendering="crispEdges"><rect x="153.0" y="96.0" width="1.05" height="1.05" fill="#2810fe"/><rect x="154.0" y="96.0" width="1.05" height="1.05" fill="#251aff"/><rect x="155.0" y="96.0" width="1.05" height="1.05" fill="#6a10f3"/><rect x="153.0" y="97.0" width="1.05" height="1.05" fill="#4010fa"/><rect x="154.0" y="97.0" width="1.05" height="1.05" fill="#2d10fe"/></g>
<g filter="url(#b06)" shape-rendering="crispEdges"><rect x="198.0" y="88.0" width="1.05" height="1.05" fill="#7710f1"/><rect x="199.0" y="88.0" width="1.05" height="1.05" fill="#5a10f6"/><rect x="200.0" y="88.0" width="1.05" height="1.05" fill="#5d10f5"/><rect x="201.0" y="88.0" width="1.05" height="1.05" fill="#7d10f0"/><rect x="196.0" y="89.0" width="1.05" height="1.05" fill="#4710f9"/><rect x="197.0" y="89.0" width="1.05" height="1.05" fill="#126eff"/><rect x="198.0" y="89.0" width="1.05" height="1.05" fill="#03cfff"/><rect x="199.0" y="89.0" width="1.05" height="1.05" fill="#03e6eb"/><rect x="200.0" y="89.0" width="1.05" height="1.05" fill="#02d3ff"/><rect x="201.0" y="89.0" width="1.05" height="1.05" fill="#1074ff"/><rect x="202.0" y="89.0" width="1.05" height="1.05" fill="#4110fa"/><rect x="195.0" y="90.0" width="1.05" height="1.05" fill="#2227ff"/><rect x="196.0" y="90.0" width="1.05" height="1.05" fill="#00e4ff"/><rect x="197.0" y="90.0" width="1.05" height="1.05" fill="#26ef2d"/><rect x="198.0" y="90.0" width="1.05" height="1.05" fill="#57f11d"/><rect x="199.0" y="90.0" width="1.05" height="1.05" fill="#5cf11d"/><rect x="200.0" y="90.0" width="1.05" height="1.05" fill="#37f024"/><rect x="201.0" y="90.0" width="1.05" height="1.05" fill="#0be8bf"/><rect x="202.0" y="90.0" width="1.05" height="1.05" fill="#1756ff"/><rect x="203.0" y="90.0" width="1.05" height="1.05" fill="#7f10f0"/><rect x="194.0" y="91.0" width="1.05" height="1.05" fill="#3910fb"/><rect x="195.0" y="91.0" width="1.05" height="1.05" fill="#03d0ff"/><rect x="196.0" y="91.0" width="1.05" height="1.05" fill="#33f025"/><rect x="197.0" y="91.0" width="1.05" height="1.05" fill="#72f118"/><rect x="198.0" y="91.0" width="1.05" height="1.05" fill="#7cf216"/><rect x="199.0" y="91.0" width="1.05" height="1.05" fill="#79f216"/><rect x="200.0" y="91.0" width="1.05" height="1.05" fill="#59f11d"/><rect x="201.0" y="91.0" width="1.05" height="1.05" fill="#13ea96"/><rect x="202.0" y="91.0" width="1.05" height="1.05" fill="#1756ff"/><rect x="194.0" y="92.0" width="1.05" height="1.05" fill="#1e3aff"/><rect x="195.0" y="92.0" width="1.05" height="1.05" fill="#0ae8c7"/><rect x="196.0" y="92.0" width="1.05" height="1.05" fill="#48f021"/><rect x="197.0" y="92.0" width="1.05" height="1.05" fill="#73f118"/><rect x="198.0" y="92.0" width="1.05" height="1.05" fill="#78f216"/><rect x="199.0" y="92.0" width="1.05" height="1.05" fill="#6af11a"/><rect x="200.0" y="92.0" width="1.05" height="1.05" fill="#27ef2c"/><rect x="201.0" y="92.0" width="1.05" height="1.05" fill="#05c1ff"/><rect x="202.0" y="92.0" width="1.05" height="1.05" fill="#4110fa"/><rect x="194.0" y="93.0" width="1.05" height="1.05" fill="#2615ff"/><rect x="195.0" y="93.0" width="1.05" height="1.05" fill="#05c0ff"/><rect x="196.0" y="93.0" width="1.05" height="1.05" fill="#19ec74"/><rect x="197.0" y="93.0" width="1.05" height="1.05" fill="#2cf027"/><rect x="198.0" y="93.0" width="1.05" height="1.05" fill="#28f027"/><rect x="199.0" y="93.0" width="1.05" height="1.05" fill="#15eb8d"/><rect x="200.0" y="93.0" width="1.05" height="1.05" fill="#09a4ff"/><rect x="201.0" y="93.0" width="1.05" height="1.05" fill="#3b10fb"/><rect x="194.0" y="94.0" width="1.05" height="1.05" fill="#7f10f0"/><rect x="195.0" y="94.0" width="1.05" height="1.05" fill="#2910fe"/><rect x="196.0" y="94.0" width="1.05" height="1.05" fill="#155fff"/><rect x="197.0" y="94.0" width="1.05" height="1.05" fill="#0f7dff"/><rect x="198.0" y="94.0" width="1.05" height="1.05" fill="#1560ff"/><rect x="199.0" y="94.0" width="1.05" height="1.05" fill="#2710ff"/><rect x="200.0" y="94.0" width="1.05" height="1.05" fill="#7d10f0"/></g>
<g filter="url(#b06)" shape-rendering="crispEdges"><rect x="193.0" y="111.0" width="1.05" height="1.05" fill="#1d3eff"/><rect x="194.0" y="111.0" width="1.05" height="1.05" fill="#1172ff"/><rect x="195.0" y="111.0" width="1.05" height="1.05" fill="#7810f1"/><rect x="192.0" y="112.0" width="1.05" height="1.05" fill="#5a10f6"/><rect x="193.0" y="112.0" width="1.05" height="1.05" fill="#00e4ff"/><rect x="194.0" y="112.0" width="1.05" height="1.05" fill="#03e6ec"/><rect x="195.0" y="112.0" width="1.05" height="1.05" fill="#136aff"/><rect x="193.0" y="113.0" width="1.05" height="1.05" fill="#0e80ff"/><rect x="194.0" y="113.0" width="1.05" height="1.05" fill="#07b0ff"/><rect x="195.0" y="113.0" width="1.05" height="1.05" fill="#4910f9"/></g>
<rect x="234.3" y="43.9" width="3.6" height="84.1" fill="url(#jetv)"/>
<text transform="translate(236.10 41.30) scale(1 1.0)" font-size="7" text-anchor="middle" font-weight="bold" >Max</text>
<text transform="translate(236.10 135.70) scale(1 1.0)" font-size="7" text-anchor="middle" font-weight="bold" >Min</text>
<path d="M305.5,16.5 H485.8 V136.4 H305.5 Z" fill="none" stroke="#111" stroke-width="1.6"/>
<line x1="302.50" y1="136.40" x2="305.50" y2="136.40" stroke="#111" stroke-width="1.6" />
<text transform="translate(295.60 139.70) scale(1 1.08)" font-size="9.3" text-anchor="end" font-weight="bold" >0</text>
<line x1="302.50" y1="106.43" x2="305.50" y2="106.43" stroke="#111" stroke-width="1.6" />
<text transform="translate(295.60 109.73) scale(1 1.08)" font-size="9.3" text-anchor="end" font-weight="bold" >5</text>
<line x1="302.50" y1="76.45" x2="305.50" y2="76.45" stroke="#111" stroke-width="1.6" />
<text transform="translate(295.60 79.75) scale(1 1.08)" font-size="9.3" text-anchor="end" font-weight="bold" >10</text>
<line x1="302.50" y1="46.48" x2="305.50" y2="46.48" stroke="#111" stroke-width="1.6" />
<text transform="translate(295.60 49.78) scale(1 1.08)" font-size="9.3" text-anchor="end" font-weight="bold" >15</text>
<line x1="302.50" y1="16.50" x2="305.50" y2="16.50" stroke="#111" stroke-width="1.6" />
<text transform="translate(295.60 19.80) scale(1 1.08)" font-size="9.3" text-anchor="end" font-weight="bold" >20</text>
<line x1="308.70" y1="136.40" x2="308.70" y2="139.90" stroke="#111" stroke-width="1.6" />
<text transform="translate(308.70 149.90) scale(1 1.08)" font-size="9.3" text-anchor="middle" font-weight="bold" >0</text>
<line x1="340.25" y1="136.40" x2="340.25" y2="139.90" stroke="#111" stroke-width="1.6" />
<text transform="translate(340.25 149.90) scale(1 1.08)" font-size="9.3" text-anchor="middle" font-weight="bold" >5</text>
<line x1="371.80" y1="136.40" x2="371.80" y2="139.90" stroke="#111" stroke-width="1.6" />
<text transform="translate(371.80 149.90) scale(1 1.08)" font-size="9.3" text-anchor="middle" font-weight="bold" >10</text>
<line x1="403.35" y1="136.40" x2="403.35" y2="139.90" stroke="#111" stroke-width="1.6" />
<text transform="translate(403.35 149.90) scale(1 1.08)" font-size="9.3" text-anchor="middle" font-weight="bold" >15</text>
<line x1="434.90" y1="136.40" x2="434.90" y2="139.90" stroke="#111" stroke-width="1.6" />
<text transform="translate(434.90 149.90) scale(1 1.08)" font-size="9.3" text-anchor="middle" font-weight="bold" >20</text>
<line x1="466.45" y1="136.40" x2="466.45" y2="139.90" stroke="#111" stroke-width="1.6" />
<text transform="translate(466.45 149.90) scale(1 1.08)" font-size="9.3" text-anchor="middle" font-weight="bold" >25</text>
<text transform="translate(394.00 163.00) scale(1 0.95)" font-size="9.8" text-anchor="middle" font-weight="bold" >Post-injection Time (h)</text>
<text transform="translate(274.2 73) rotate(-90) scale(1.07 1)" font-size="9.4" text-anchor="middle" font-weight="bold">F.I. (×10<tspan font-size="7" dy="-4">8</tspan><tspan dy="4"> p/s/cm</tspan><tspan font-size="7" dy="-4">2</tspan><tspan dy="4">/sr)</tspan></text>
<polyline points="308.70,119.91 315.01,68.18 333.94,75.25 371.80,93.06 460.14,116.20" fill="none" stroke="#f83c46" stroke-width="1.6"/>
<line x1="308.70" y1="109.60" x2="308.70" y2="129.63" stroke="#f83c46" stroke-width="1.7" />
<line x1="306.20" y1="109.60" x2="311.20" y2="109.60" stroke="#f83c46" stroke-width="1.7" />
<line x1="306.20" y1="129.63" x2="311.20" y2="129.63" stroke="#f83c46" stroke-width="1.7" />
<circle cx="308.70" cy="119.91" r="2.4" fill="#f83c46"/>
<line x1="315.01" y1="50.07" x2="315.01" y2="86.22" stroke="#f83c46" stroke-width="1.7" />
<line x1="312.51" y1="50.07" x2="317.51" y2="50.07" stroke="#f83c46" stroke-width="1.7" />
<line x1="312.51" y1="86.22" x2="317.51" y2="86.22" stroke="#f83c46" stroke-width="1.7" />
<circle cx="315.01" cy="68.18" r="2.4" fill="#f83c46"/>
<line x1="333.94" y1="65.06" x2="333.94" y2="85.26" stroke="#f83c46" stroke-width="1.7" />
<line x1="331.44" y1="65.06" x2="336.44" y2="65.06" stroke="#f83c46" stroke-width="1.7" />
<line x1="331.44" y1="85.26" x2="336.44" y2="85.26" stroke="#f83c46" stroke-width="1.7" />
<circle cx="333.94" cy="75.25" r="2.4" fill="#f83c46"/>
<line x1="371.80" y1="73.63" x2="371.80" y2="112.60" stroke="#f83c46" stroke-width="1.7" />
<line x1="369.30" y1="73.63" x2="374.30" y2="73.63" stroke="#f83c46" stroke-width="1.7" />
<line x1="369.30" y1="112.60" x2="374.30" y2="112.60" stroke="#f83c46" stroke-width="1.7" />
<circle cx="371.80" cy="93.06" r="2.4" fill="#f83c46"/>
<line x1="460.14" y1="104.93" x2="460.14" y2="127.41" stroke="#f83c46" stroke-width="1.7" />
<line x1="457.64" y1="104.93" x2="462.64" y2="104.93" stroke="#f83c46" stroke-width="1.7" />
<line x1="457.64" y1="127.41" x2="462.64" y2="127.41" stroke="#f83c46" stroke-width="1.7" />
<circle cx="460.14" cy="116.20" r="2.4" fill="#f83c46"/>
<rect x="513.4" y="29.8" width="146.6" height="113.8" fill="#a0a0a0" filter="url(#cnoise)"/>
<text transform="translate(526.00 24.90) scale(1 1.0)" font-size="9" text-anchor="middle" font-weight="bold" >H</text>
<text transform="translate(558.80 24.90) scale(1 1.0)" font-size="9" text-anchor="middle" font-weight="bold" >Li</text>
<text transform="translate(586.30 24.90) scale(1 1.0)" font-size="9" text-anchor="middle" font-weight="bold" >Sp</text>
<text transform="translate(616.30 24.90) scale(1 1.0)" font-size="9" text-anchor="middle" font-weight="bold" >Lu</text>
<text transform="translate(645.50 24.90) scale(1 1.0)" font-size="9" text-anchor="middle" font-weight="bold" >Ki</text>
<ellipse cx="530.5" cy="123.5" rx="1.3" ry="4" fill="#555" opacity="0.6" filter="url(#b05)"/>
<path d="M589.5,113 Q585.5,121 590,129" fill="none" stroke="#444" stroke-width="1.6" opacity="0.7" filter="url(#b05)"/>
<path d="M597,80 Q599,86 597,91" fill="none" stroke="#555" stroke-width="1.3" opacity="0.6" filter="url(#b05)"/>
<g filter="url(#b04)" shape-rendering="crispEdges"><rect x="520.9" y="47.3" width="2.55" height="2.55" fill="#6110f5"/><rect x="523.4" y="47.3" width="2.55" height="2.55" fill="#5810f6"/><rect x="525.9" y="47.3" width="2.55" height="2.55" fill="#6c10f3"/><rect x="518.4" y="49.8" width="2.55" height="2.55" fill="#6510f4"/><rect x="520.9" y="49.8" width="2.55" height="2.55" fill="#4810f9"/><rect x="523.4" y="49.8" width="2.55" height="2.55" fill="#4610f9"/><rect x="525.9" y="49.8" width="2.55" height="2.55" fill="#4d10f8"/><rect x="528.4" y="49.8" width="2.55" height="2.55" fill="#7c10f0"/><rect x="518.4" y="52.3" width="2.55" height="2.55" fill="#6810f4"/><rect x="520.9" y="52.3" width="2.55" height="2.55" fill="#4910f9"/><rect x="523.4" y="52.3" width="2.55" height="2.55" fill="#4710f9"/><rect x="525.9" y="52.3" width="2.55" height="2.55" fill="#4f10f8"/><rect x="528.4" y="52.3" width="2.55" height="2.55" fill="#7f10f0"/><rect x="520.9" y="54.8" width="2.55" height="2.55" fill="#6a10f3"/><rect x="523.4" y="54.8" width="2.55" height="2.55" fill="#6010f5"/><rect x="525.9" y="54.8" width="2.55" height="2.55" fill="#7610f1"/></g>
<g filter="url(#b04)" shape-rendering="crispEdges"><rect x="523.4" y="82.3" width="2.55" height="2.55" fill="#7410f1"/><rect x="525.9" y="82.3" width="2.55" height="2.55" fill="#6510f4"/><rect x="528.4" y="82.3" width="2.55" height="2.55" fill="#7810f1"/><rect x="520.9" y="84.8" width="2.55" height="2.55" fill="#7510f1"/><rect x="523.4" y="84.8" width="2.55" height="2.55" fill="#4c10f8"/><rect x="525.9" y="84.8" width="2.55" height="2.55" fill="#4710f9"/><rect x="528.4" y="84.8" width="2.55" height="2.55" fill="#4e10f8"/><rect x="530.9" y="84.8" width="2.55" height="2.55" fill="#7d10f0"/><rect x="520.9" y="87.3" width="2.55" height="2.55" fill="#6e10f2"/><rect x="523.4" y="87.3" width="2.55" height="2.55" fill="#4910f9"/><rect x="525.9" y="87.3" width="2.55" height="2.55" fill="#4610f9"/><rect x="528.4" y="87.3" width="2.55" height="2.55" fill="#4b10f8"/><rect x="530.9" y="87.3" width="2.55" height="2.55" fill="#7610f1"/><rect x="523.4" y="89.8" width="2.55" height="2.55" fill="#6010f5"/><rect x="525.9" y="89.8" width="2.55" height="2.55" fill="#5410f7"/><rect x="528.4" y="89.8" width="2.55" height="2.55" fill="#6410f4"/></g>
<g filter="url(#b04)" shape-rendering="crispEdges"><rect x="520.9" y="122.3" width="2.55" height="2.55" fill="#7810f1"/><rect x="523.4" y="122.3" width="2.55" height="2.55" fill="#6a10f3"/><rect x="525.9" y="122.3" width="2.55" height="2.55" fill="#7910f1"/><rect x="518.4" y="124.8" width="2.55" height="2.55" fill="#7110f2"/><rect x="520.9" y="124.8" width="2.55" height="2.55" fill="#4e10f8"/><rect x="523.4" y="124.8" width="2.55" height="2.55" fill="#4810f9"/><rect x="525.9" y="124.8" width="2.55" height="2.55" fill="#4e10f8"/><rect x="528.4" y="124.8" width="2.55" height="2.55" fill="#7310f2"/><rect x="518.4" y="127.3" width="2.55" height="2.55" fill="#6410f4"/><rect x="520.9" y="127.3" width="2.55" height="2.55" fill="#4810f9"/><rect x="523.4" y="127.3" width="2.55" height="2.55" fill="#4610f9"/><rect x="525.9" y="127.3" width="2.55" height="2.55" fill="#4910f9"/><rect x="528.4" y="127.3" width="2.55" height="2.55" fill="#6610f4"/><rect x="518.4" y="129.8" width="2.55" height="2.55" fill="#7b10f0"/><rect x="520.9" y="129.8" width="2.55" height="2.55" fill="#5410f7"/><rect x="523.4" y="129.8" width="2.55" height="2.55" fill="#4c10f8"/><rect x="525.9" y="129.8" width="2.55" height="2.55" fill="#5510f7"/><rect x="528.4" y="129.8" width="2.55" height="2.55" fill="#7e10f0"/><rect x="523.4" y="132.3" width="2.55" height="2.55" fill="#7f10f0"/></g>
<g filter="url(#b04)" shape-rendering="crispEdges"><rect x="543.4" y="32.3" width="2.55" height="2.55" fill="#7c10f0"/><rect x="545.9" y="32.3" width="2.55" height="2.55" fill="#6810f3"/><rect x="548.4" y="32.3" width="2.55" height="2.55" fill="#7c10f0"/><rect x="540.9" y="34.8" width="2.55" height="2.55" fill="#4310fa"/><rect x="543.4" y="34.8" width="2.55" height="2.55" fill="#1755ff"/><rect x="545.9" y="34.8" width="2.55" height="2.55" fill="#0d8cff"/><rect x="548.4" y="34.8" width="2.55" height="2.55" fill="#1368ff"/><rect x="550.9" y="34.8" width="2.55" height="2.55" fill="#3e10fb"/><rect x="538.4" y="37.3" width="2.55" height="2.55" fill="#4a10f9"/><rect x="540.9" y="37.3" width="2.55" height="2.55" fill="#0d8bff"/><rect x="543.4" y="37.3" width="2.55" height="2.55" fill="#13ea97"/><rect x="545.9" y="37.3" width="2.55" height="2.55" fill="#47f021"/><rect x="548.4" y="37.3" width="2.55" height="2.55" fill="#2df026"/><rect x="550.9" y="37.3" width="2.55" height="2.55" fill="#05c0ff"/><rect x="553.4" y="37.3" width="2.55" height="2.55" fill="#4810f9"/><rect x="558.4" y="37.3" width="2.55" height="2.55" fill="#7210f2"/><rect x="560.9" y="37.3" width="2.55" height="2.55" fill="#3010fd"/><rect x="563.4" y="37.3" width="2.55" height="2.55" fill="#202fff"/><rect x="565.9" y="37.3" width="2.55" height="2.55" fill="#2227ff"/><rect x="568.4" y="37.3" width="2.55" height="2.55" fill="#4310fa"/><rect x="538.4" y="39.8" width="2.55" height="2.55" fill="#1757ff"/><rect x="540.9" y="39.8" width="2.55" height="2.55" fill="#10eaa8"/><rect x="543.4" y="39.8" width="2.55" height="2.55" fill="#9bf30f"/><rect x="545.9" y="39.8" width="2.55" height="2.55" fill="#eed200"/><rect x="548.4" y="39.8" width="2.55" height="2.55" fill="#ecd800"/><rect x="550.9" y="39.8" width="2.55" height="2.55" fill="#5ff11c"/><rect x="553.4" y="39.8" width="2.55" height="2.55" fill="#0d8aff"/><rect x="555.9" y="39.8" width="2.55" height="2.55" fill="#2910fe"/><rect x="558.4" y="39.8" width="2.55" height="2.55" fill="#1854ff"/><rect x="560.9" y="39.8" width="2.55" height="2.55" fill="#07b4ff"/><rect x="563.4" y="39.8" width="2.55" height="2.55" fill="#01dfff"/><rect x="565.9" y="39.8" width="2.55" height="2.55" fill="#02d6ff"/><rect x="568.4" y="39.8" width="2.55" height="2.55" fill="#0b9aff"/><rect x="570.9" y="39.8" width="2.55" height="2.55" fill="#2227ff"/><rect x="535.9" y="42.3" width="2.55" height="2.55" fill="#5710f6"/><rect x="538.4" y="42.3" width="2.55" height="2.55" fill="#07b3ff"/><rect x="540.9" y="42.3" width="2.55" height="2.55" fill="#3bf023"/><rect x="543.4" y="42.3" width="2.55" height="2.55" fill="#edd600"/><rect x="545.9" y="42.3" width="2.55" height="2.55" fill="#ff8400"/><rect x="548.4" y="42.3" width="2.55" height="2.55" fill="#ff8400"/><rect x="550.9" y="42.3" width="2.55" height="2.55" fill="#ebdf00"/><rect x="553.4" y="42.3" width="2.55" height="2.55" fill="#1ded5d"/><rect x="555.9" y="42.3" width="2.55" height="2.55" fill="#05c2ff"/><rect x="558.4" y="42.3" width="2.55" height="2.55" fill="#00e6fc"/><rect x="560.9" y="42.3" width="2.55" height="2.55" fill="#17eb80"/><rect x="563.4" y="42.3" width="2.55" height="2.55" fill="#20ee51"/><rect x="565.9" y="42.3" width="2.55" height="2.55" fill="#1ced63"/><rect x="568.4" y="42.3" width="2.55" height="2.55" fill="#0ee9af"/><rect x="570.9" y="42.3" width="2.55" height="2.55" fill="#07afff"/><rect x="573.4" y="42.3" width="2.55" height="2.55" fill="#2e10fd"/><rect x="535.9" y="44.8" width="2.55" height="2.55" fill="#3110fd"/><rect x="538.4" y="44.8" width="2.55" height="2.55" fill="#00e6fa"/><rect x="540.9" y="44.8" width="2.55" height="2.55" fill="#6ff118"/><rect x="543.4" y="44.8" width="2.55" height="2.55" fill="#f6b100"/><rect x="545.9" y="44.8" width="2.55" height="2.55" fill="#ff5f00"/><rect x="548.4" y="44.8" width="2.55" height="2.55" fill="#ff5d00"/><rect x="550.9" y="44.8" width="2.55" height="2.55" fill="#f7a900"/><rect x="553.4" y="44.8" width="2.55" height="2.55" fill="#9cf30f"/><rect x="555.9" y="44.8" width="2.55" height="2.55" fill="#24ef3c"/><rect x="558.4" y="44.8" width="2.55" height="2.55" fill="#26ef31"/><rect x="560.9" y="44.8" width="2.55" height="2.55" fill="#79f216"/><rect x="563.4" y="44.8" width="2.55" height="2.55" fill="#9ff30e"/><rect x="565.9" y="44.8" width="2.55" height="2.55" fill="#79f216"/><rect x="568.4" y="44.8" width="2.55" height="2.55" fill="#2cf027"/><rect x="570.9" y="44.8" width="2.55" height="2.55" fill="#0ae8c4"/><rect x="573.4" y="44.8" width="2.55" height="2.55" fill="#1463ff"/><rect x="535.9" y="47.3" width="2.55" height="2.55" fill="#2616ff"/><rect x="538.4" y="47.3" width="2.55" height="2.55" fill="#06e7de"/><rect x="540.9" y="47.3" width="2.55" height="2.55" fill="#78f217"/><rect x="543.4" y="47.3" width="2.55" height="2.55" fill="#f6ae00"/><rect x="545.9" y="47.3" width="2.55" height="2.55" fill="#ff5c00"/><rect x="548.4" y="47.3" width="2.55" height="2.55" fill="#ff5a00"/><rect x="550.9" y="47.3" width="2.55" height="2.55" fill="#fa9d00"/><rect x="553.4" y="47.3" width="2.55" height="2.55" fill="#e1f400"/><rect x="555.9" y="47.3" width="2.55" height="2.55" fill="#7cf216"/><rect x="558.4" y="47.3" width="2.55" height="2.55" fill="#acf30c"/><rect x="560.9" y="47.3" width="2.55" height="2.55" fill="#f0c800"/><rect x="563.4" y="47.3" width="2.55" height="2.55" fill="#f7ad00"/><rect x="565.9" y="47.3" width="2.55" height="2.55" fill="#efce00"/><rect x="568.4" y="47.3" width="2.55" height="2.55" fill="#99f210"/><rect x="570.9" y="47.3" width="2.55" height="2.55" fill="#1ded62"/><rect x="573.4" y="47.3" width="2.55" height="2.55" fill="#0a9bff"/><rect x="575.9" y="47.3" width="2.55" height="2.55" fill="#6210f4"/><rect x="535.9" y="49.8" width="2.55" height="2.55" fill="#2c10fe"/><rect x="538.4" y="49.8" width="2.55" height="2.55" fill="#01e6f5"/><rect x="540.9" y="49.8" width="2.55" height="2.55" fill="#5af11d"/><rect x="543.4" y="49.8" width="2.55" height="2.55" fill="#efcb00"/><rect x="545.9" y="49.8" width="2.55" height="2.55" fill="#ff7900"/><rect x="548.4" y="49.8" width="2.55" height="2.55" fill="#ff7600"/><rect x="550.9" y="49.8" width="2.55" height="2.55" fill="#f3bb00"/><rect x="553.4" y="49.8" width="2.55" height="2.55" fill="#c8f406"/><rect x="555.9" y="49.8" width="2.55" height="2.55" fill="#9af30f"/><rect x="558.4" y="49.8" width="2.55" height="2.55" fill="#ebde00"/><rect x="560.9" y="49.8" width="2.55" height="2.55" fill="#ff8600"/><rect x="563.4" y="49.8" width="2.55" height="2.55" fill="#ff6d00"/><rect x="565.9" y="49.8" width="2.55" height="2.55" fill="#fe8d00"/><rect x="568.4" y="49.8" width="2.55" height="2.55" fill="#e8ea00"/><rect x="570.9" y="49.8" width="2.55" height="2.55" fill="#29f027"/><rect x="573.4" y="49.8" width="2.55" height="2.55" fill="#08aaff"/><rect x="575.9" y="49.8" width="2.55" height="2.55" fill="#5b10f6"/><rect x="535.9" y="52.3" width="2.55" height="2.55" fill="#4e10f8"/><rect x="538.4" y="52.3" width="2.55" height="2.55" fill="#06bcff"/><rect x="540.9" y="52.3" width="2.55" height="2.55" fill="#26ef31"/><rect x="543.4" y="52.3" width="2.55" height="2.55" fill="#cdf405"/><rect x="545.9" y="52.3" width="2.55" height="2.55" fill="#f3ba00"/><rect x="548.4" y="52.3" width="2.55" height="2.55" fill="#f4b900"/><rect x="550.9" y="52.3" width="2.55" height="2.55" fill="#d1f404"/><rect x="553.4" y="52.3" width="2.55" height="2.55" fill="#57f11d"/><rect x="555.9" y="52.3" width="2.55" height="2.55" fill="#59f11d"/><rect x="558.4" y="52.3" width="2.55" height="2.55" fill="#eae300"/><rect x="560.9" y="52.3" width="2.55" height="2.55" fill="#ff8300"/><rect x="563.4" y="52.3" width="2.55" height="2.55" fill="#ff6b00"/><rect x="565.9" y="52.3" width="2.55" height="2.55" fill="#ff8900"/><rect x="568.4" y="52.3" width="2.55" height="2.55" fill="#e8e900"/><rect x="570.9" y="52.3" width="2.55" height="2.55" fill="#23ee3d"/><rect x="573.4" y="52.3" width="2.55" height="2.55" fill="#0d8cff"/><rect x="575.9" y="52.3" width="2.55" height="2.55" fill="#6d10f3"/><rect x="535.9" y="54.8" width="2.55" height="2.55" fill="#7e10f0"/><rect x="538.4" y="54.8" width="2.55" height="2.55" fill="#1369ff"/><rect x="540.9" y="54.8" width="2.55" height="2.55" fill="#0de9b7"/><rect x="543.4" y="54.8" width="2.55" height="2.55" fill="#4ff11f"/><rect x="545.9" y="54.8" width="2.55" height="2.55" fill="#adf30b"/><rect x="548.4" y="54.8" width="2.55" height="2.55" fill="#a3f30d"/><rect x="550.9" y="54.8" width="2.55" height="2.55" fill="#26ef31"/><rect x="553.4" y="54.8" width="2.55" height="2.55" fill="#00e4ff"/><rect x="555.9" y="54.8" width="2.55" height="2.55" fill="#06e7de"/><rect x="558.4" y="54.8" width="2.55" height="2.55" fill="#7df215"/><rect x="560.9" y="54.8" width="2.55" height="2.55" fill="#f1c400"/><rect x="563.4" y="54.8" width="2.55" height="2.55" fill="#f9a300"/><rect x="565.9" y="54.8" width="2.55" height="2.55" fill="#f1c600"/><rect x="568.4" y="54.8" width="2.55" height="2.55" fill="#90f212"/><rect x="570.9" y="54.8" width="2.55" height="2.55" fill="#0ae8c4"/><rect x="573.4" y="54.8" width="2.55" height="2.55" fill="#1c41ff"/><rect x="538.4" y="57.3" width="2.55" height="2.55" fill="#3710fc"/><rect x="540.9" y="57.3" width="2.55" height="2.55" fill="#0a9bff"/><rect x="543.4" y="57.3" width="2.55" height="2.55" fill="#0ae8c4"/><rect x="545.9" y="57.3" width="2.55" height="2.55" fill="#1bec6a"/><rect x="548.4" y="57.3" width="2.55" height="2.55" fill="#13ea96"/><rect x="550.9" y="57.3" width="2.55" height="2.55" fill="#08a8ff"/><rect x="553.4" y="57.3" width="2.55" height="2.55" fill="#2324ff"/><rect x="555.9" y="57.3" width="2.55" height="2.55" fill="#1e37ff"/><rect x="558.4" y="57.3" width="2.55" height="2.55" fill="#00e4ff"/><rect x="560.9" y="57.3" width="2.55" height="2.55" fill="#49f020"/><rect x="563.4" y="57.3" width="2.55" height="2.55" fill="#8af213"/><rect x="565.9" y="57.3" width="2.55" height="2.55" fill="#5af11d"/><rect x="568.4" y="57.3" width="2.55" height="2.55" fill="#11eaa2"/><rect x="570.9" y="57.3" width="2.55" height="2.55" fill="#0e80ff"/><rect x="573.4" y="57.3" width="2.55" height="2.55" fill="#5510f7"/><rect x="540.9" y="59.8" width="2.55" height="2.55" fill="#2d10fd"/><rect x="543.4" y="59.8" width="2.55" height="2.55" fill="#1466ff"/><rect x="545.9" y="59.8" width="2.55" height="2.55" fill="#0d8aff"/><rect x="548.4" y="59.8" width="2.55" height="2.55" fill="#1465ff"/><rect x="550.9" y="59.8" width="2.55" height="2.55" fill="#3510fc"/><rect x="558.4" y="59.8" width="2.55" height="2.55" fill="#2713ff"/><rect x="560.9" y="59.8" width="2.55" height="2.55" fill="#0e82ff"/><rect x="563.4" y="59.8" width="2.55" height="2.55" fill="#06b9ff"/><rect x="565.9" y="59.8" width="2.55" height="2.55" fill="#09a6ff"/><rect x="568.4" y="59.8" width="2.55" height="2.55" fill="#1757ff"/><rect x="570.9" y="59.8" width="2.55" height="2.55" fill="#4a10f9"/><rect x="543.4" y="62.3" width="2.55" height="2.55" fill="#6810f3"/><rect x="545.9" y="62.3" width="2.55" height="2.55" fill="#5610f7"/><rect x="548.4" y="62.3" width="2.55" height="2.55" fill="#6c10f3"/><rect x="560.9" y="62.3" width="2.55" height="2.55" fill="#6d10f3"/><rect x="563.4" y="62.3" width="2.55" height="2.55" fill="#5010f8"/><rect x="565.9" y="62.3" width="2.55" height="2.55" fill="#5610f7"/><rect x="568.4" y="62.3" width="2.55" height="2.55" fill="#7c10f0"/></g>
<g filter="url(#b04)" shape-rendering="crispEdges"><rect x="545.9" y="72.3" width="2.55" height="2.55" fill="#6410f4"/><rect x="548.4" y="72.3" width="2.55" height="2.55" fill="#2f10fd"/><rect x="550.9" y="72.3" width="2.55" height="2.55" fill="#1e3aff"/><rect x="553.4" y="72.3" width="2.55" height="2.55" fill="#1759ff"/><rect x="555.9" y="72.3" width="2.55" height="2.55" fill="#1463ff"/><rect x="558.4" y="72.3" width="2.55" height="2.55" fill="#1756ff"/><rect x="560.9" y="72.3" width="2.55" height="2.55" fill="#1f32ff"/><rect x="563.4" y="72.3" width="2.55" height="2.55" fill="#3710fc"/><rect x="565.9" y="72.3" width="2.55" height="2.55" fill="#6b10f3"/><rect x="540.9" y="74.8" width="2.55" height="2.55" fill="#7510f1"/><rect x="543.4" y="74.8" width="2.55" height="2.55" fill="#2518ff"/><rect x="545.9" y="74.8" width="2.55" height="2.55" fill="#0d8bff"/><rect x="548.4" y="74.8" width="2.55" height="2.55" fill="#02e6f3"/><rect x="550.9" y="74.8" width="2.55" height="2.55" fill="#12ea9b"/><rect x="553.4" y="74.8" width="2.55" height="2.55" fill="#18ec7c"/><rect x="555.9" y="74.8" width="2.55" height="2.55" fill="#18ec79"/><rect x="558.4" y="74.8" width="2.55" height="2.55" fill="#15eb8d"/><rect x="560.9" y="74.8" width="2.55" height="2.55" fill="#0ae8c4"/><rect x="563.4" y="74.8" width="2.55" height="2.55" fill="#03caff"/><rect x="565.9" y="74.8" width="2.55" height="2.55" fill="#126eff"/><rect x="568.4" y="74.8" width="2.55" height="2.55" fill="#2e10fd"/><rect x="570.9" y="74.8" width="2.55" height="2.55" fill="#7e10f0"/><rect x="538.4" y="77.3" width="2.55" height="2.55" fill="#7310f2"/><rect x="540.9" y="77.3" width="2.55" height="2.55" fill="#2031ff"/><rect x="543.4" y="77.3" width="2.55" height="2.55" fill="#03ceff"/><rect x="545.9" y="77.3" width="2.55" height="2.55" fill="#26ef2e"/><rect x="548.4" y="77.3" width="2.55" height="2.55" fill="#7ff215"/><rect x="550.9" y="77.3" width="2.55" height="2.55" fill="#99f210"/><rect x="553.4" y="77.3" width="2.55" height="2.55" fill="#86f214"/><rect x="555.9" y="77.3" width="2.55" height="2.55" fill="#73f118"/><rect x="558.4" y="77.3" width="2.55" height="2.55" fill="#79f216"/><rect x="560.9" y="77.3" width="2.55" height="2.55" fill="#7bf216"/><rect x="563.4" y="77.3" width="2.55" height="2.55" fill="#58f11d"/><rect x="565.9" y="77.3" width="2.55" height="2.55" fill="#1aec71"/><rect x="568.4" y="77.3" width="2.55" height="2.55" fill="#07b2ff"/><rect x="570.9" y="77.3" width="2.55" height="2.55" fill="#2321ff"/><rect x="573.4" y="77.3" width="2.55" height="2.55" fill="#7c10f0"/><rect x="538.4" y="79.8" width="2.55" height="2.55" fill="#2c10fe"/><rect x="540.9" y="79.8" width="2.55" height="2.55" fill="#08aaff"/><rect x="543.4" y="79.8" width="2.55" height="2.55" fill="#25ef35"/><rect x="545.9" y="79.8" width="2.55" height="2.55" fill="#abf30c"/><rect x="548.4" y="79.8" width="2.55" height="2.55" fill="#e6f200"/><rect x="550.9" y="79.8" width="2.55" height="2.55" fill="#e7ed00"/><rect x="553.4" y="79.8" width="2.55" height="2.55" fill="#d7f403"/><rect x="555.9" y="79.8" width="2.55" height="2.55" fill="#cbf405"/><rect x="558.4" y="79.8" width="2.55" height="2.55" fill="#eae000"/><rect x="560.9" y="79.8" width="2.55" height="2.55" fill="#f4b900"/><rect x="563.4" y="79.8" width="2.55" height="2.55" fill="#f3ba00"/><rect x="565.9" y="79.8" width="2.55" height="2.55" fill="#e6f100"/><rect x="568.4" y="79.8" width="2.55" height="2.55" fill="#32f025"/><rect x="570.9" y="79.8" width="2.55" height="2.55" fill="#09a5ff"/><rect x="573.4" y="79.8" width="2.55" height="2.55" fill="#3810fc"/><rect x="535.9" y="82.3" width="2.55" height="2.55" fill="#7110f2"/><rect x="538.4" y="82.3" width="2.55" height="2.55" fill="#1b47ff"/><rect x="540.9" y="82.3" width="2.55" height="2.55" fill="#04e7e5"/><rect x="543.4" y="82.3" width="2.55" height="2.55" fill="#61f11b"/><rect x="545.9" y="82.3" width="2.55" height="2.55" fill="#dbf402"/><rect x="548.4" y="82.3" width="2.55" height="2.55" fill="#e9e500"/><rect x="550.9" y="82.3" width="2.55" height="2.55" fill="#eae200"/><rect x="553.4" y="82.3" width="2.55" height="2.55" fill="#e8ea00"/><rect x="555.9" y="82.3" width="2.55" height="2.55" fill="#edd600"/><rect x="558.4" y="82.3" width="2.55" height="2.55" fill="#ff8a00"/><rect x="560.9" y="82.3" width="2.55" height="2.55" fill="#ff3d00"/><rect x="563.4" y="82.3" width="2.55" height="2.55" fill="#ff3400"/><rect x="565.9" y="82.3" width="2.55" height="2.55" fill="#ff7800"/><rect x="568.4" y="82.3" width="2.55" height="2.55" fill="#e6f400"/><rect x="570.9" y="82.3" width="2.55" height="2.55" fill="#0fe9ab"/><rect x="573.4" y="82.3" width="2.55" height="2.55" fill="#1d3eff"/><rect x="575.9" y="82.3" width="2.55" height="2.55" fill="#7c10f0"/><rect x="535.9" y="84.8" width="2.55" height="2.55" fill="#6510f4"/><rect x="538.4" y="84.8" width="2.55" height="2.55" fill="#165cff"/><rect x="540.9" y="84.8" width="2.55" height="2.55" fill="#09e8ca"/><rect x="543.4" y="84.8" width="2.55" height="2.55" fill="#5df11c"/><rect x="545.9" y="84.8" width="2.55" height="2.55" fill="#ccf405"/><rect x="548.4" y="84.8" width="2.55" height="2.55" fill="#e8eb00"/><rect x="550.9" y="84.8" width="2.55" height="2.55" fill="#e8ec00"/><rect x="553.4" y="84.8" width="2.55" height="2.55" fill="#e7f000"/><rect x="555.9" y="84.8" width="2.55" height="2.55" fill="#f1c600"/><rect x="558.4" y="84.8" width="2.55" height="2.55" fill="#ff6100"/><rect x="560.9" y="84.8" width="2.55" height="2.55" fill="#ff1400"/><rect x="563.4" y="84.8" width="2.55" height="2.55" fill="#ff1400"/><rect x="565.9" y="84.8" width="2.55" height="2.55" fill="#ff4600"/><rect x="568.4" y="84.8" width="2.55" height="2.55" fill="#eecf00"/><rect x="570.9" y="84.8" width="2.55" height="2.55" fill="#1ded5f"/><rect x="573.4" y="84.8" width="2.55" height="2.55" fill="#1757ff"/><rect x="575.9" y="84.8" width="2.55" height="2.55" fill="#7010f2"/><rect x="535.9" y="87.3" width="2.55" height="2.55" fill="#7210f2"/><rect x="538.4" y="87.3" width="2.55" height="2.55" fill="#1b45ff"/><rect x="540.9" y="87.3" width="2.55" height="2.55" fill="#00e6fd"/><rect x="543.4" y="87.3" width="2.55" height="2.55" fill="#2df026"/><rect x="545.9" y="87.3" width="2.55" height="2.55" fill="#8cf212"/><rect x="548.4" y="87.3" width="2.55" height="2.55" fill="#baf309"/><rect x="550.9" y="87.3" width="2.55" height="2.55" fill="#bcf308"/><rect x="553.4" y="87.3" width="2.55" height="2.55" fill="#bcf308"/><rect x="555.9" y="87.3" width="2.55" height="2.55" fill="#eae200"/><rect x="558.4" y="87.3" width="2.55" height="2.55" fill="#fe8e00"/><rect x="560.9" y="87.3" width="2.55" height="2.55" fill="#ff4100"/><rect x="563.4" y="87.3" width="2.55" height="2.55" fill="#ff3700"/><rect x="565.9" y="87.3" width="2.55" height="2.55" fill="#ff7c00"/><rect x="568.4" y="87.3" width="2.55" height="2.55" fill="#e0f401"/><rect x="570.9" y="87.3" width="2.55" height="2.55" fill="#0ee9b1"/><rect x="573.4" y="87.3" width="2.55" height="2.55" fill="#1d3cff"/><rect x="575.9" y="87.3" width="2.55" height="2.55" fill="#7c10f0"/><rect x="538.4" y="89.8" width="2.55" height="2.55" fill="#2f10fd"/><rect x="540.9" y="89.8" width="2.55" height="2.55" fill="#0a9aff"/><rect x="543.4" y="89.8" width="2.55" height="2.55" fill="#12ea9a"/><rect x="545.9" y="89.8" width="2.55" height="2.55" fill="#3ff023"/><rect x="548.4" y="89.8" width="2.55" height="2.55" fill="#71f118"/><rect x="550.9" y="89.8" width="2.55" height="2.55" fill="#83f214"/><rect x="553.4" y="89.8" width="2.55" height="2.55" fill="#8df212"/><rect x="555.9" y="89.8" width="2.55" height="2.55" fill="#b4f30a"/><rect x="558.4" y="89.8" width="2.55" height="2.55" fill="#e9e500"/><rect x="560.9" y="89.8" width="2.55" height="2.55" fill="#f2bf00"/><rect x="563.4" y="89.8" width="2.55" height="2.55" fill="#f2c000"/><rect x="565.9" y="89.8" width="2.55" height="2.55" fill="#e2f400"/><rect x="568.4" y="89.8" width="2.55" height="2.55" fill="#2af027"/><rect x="570.9" y="89.8" width="2.55" height="2.55" fill="#0aa0ff"/><rect x="573.4" y="89.8" width="2.55" height="2.55" fill="#3b10fb"/><rect x="538.4" y="92.3" width="2.55" height="2.55" fill="#7510f1"/><rect x="540.9" y="92.3" width="2.55" height="2.55" fill="#2228ff"/><rect x="543.4" y="92.3" width="2.55" height="2.55" fill="#08aaff"/><rect x="545.9" y="92.3" width="2.55" height="2.55" fill="#0fe9ac"/><rect x="548.4" y="92.3" width="2.55" height="2.55" fill="#25ef34"/><rect x="550.9" y="92.3" width="2.55" height="2.55" fill="#48f021"/><rect x="553.4" y="92.3" width="2.55" height="2.55" fill="#5bf11d"/><rect x="555.9" y="92.3" width="2.55" height="2.55" fill="#67f11a"/><rect x="558.4" y="92.3" width="2.55" height="2.55" fill="#73f118"/><rect x="560.9" y="92.3" width="2.55" height="2.55" fill="#74f217"/><rect x="563.4" y="92.3" width="2.55" height="2.55" fill="#4ff11f"/><rect x="565.9" y="92.3" width="2.55" height="2.55" fill="#17eb7f"/><rect x="568.4" y="92.3" width="2.55" height="2.55" fill="#08abff"/><rect x="570.9" y="92.3" width="2.55" height="2.55" fill="#251cff"/><rect x="573.4" y="92.3" width="2.55" height="2.55" fill="#7f10f0"/><rect x="540.9" y="94.8" width="2.55" height="2.55" fill="#7910f1"/><rect x="543.4" y="94.8" width="2.55" height="2.55" fill="#2a10fe"/><rect x="545.9" y="94.8" width="2.55" height="2.55" fill="#116fff"/><rect x="548.4" y="94.8" width="2.55" height="2.55" fill="#04c6ff"/><rect x="550.9" y="94.8" width="2.55" height="2.55" fill="#08e8ce"/><rect x="553.4" y="94.8" width="2.55" height="2.55" fill="#13ea97"/><rect x="555.9" y="94.8" width="2.55" height="2.55" fill="#16eb86"/><rect x="558.4" y="94.8" width="2.55" height="2.55" fill="#12ea99"/><rect x="560.9" y="94.8" width="2.55" height="2.55" fill="#08e8d1"/><rect x="563.4" y="94.8" width="2.55" height="2.55" fill="#05c2ff"/><rect x="565.9" y="94.8" width="2.55" height="2.55" fill="#1367ff"/><rect x="568.4" y="94.8" width="2.55" height="2.55" fill="#3410fc"/><rect x="545.9" y="97.3" width="2.55" height="2.55" fill="#6a10f3"/><rect x="548.4" y="97.3" width="2.55" height="2.55" fill="#3810fc"/><rect x="550.9" y="97.3" width="2.55" height="2.55" fill="#202fff"/><rect x="553.4" y="97.3" width="2.55" height="2.55" fill="#1950ff"/><rect x="555.9" y="97.3" width="2.55" height="2.55" fill="#165aff"/><rect x="558.4" y="97.3" width="2.55" height="2.55" fill="#194dff"/><rect x="560.9" y="97.3" width="2.55" height="2.55" fill="#212aff"/><rect x="563.4" y="97.3" width="2.55" height="2.55" fill="#3d10fb"/><rect x="565.9" y="97.3" width="2.55" height="2.55" fill="#7010f2"/></g>
<g filter="url(#b04)" shape-rendering="crispEdges"><rect x="563.4" y="104.8" width="2.55" height="2.55" fill="#7a10f0"/><rect x="558.4" y="107.3" width="2.55" height="2.55" fill="#5110f7"/><rect x="560.9" y="107.3" width="2.55" height="2.55" fill="#1756ff"/><rect x="563.4" y="107.3" width="2.55" height="2.55" fill="#0a9eff"/><rect x="565.9" y="107.3" width="2.55" height="2.55" fill="#0f7eff"/><rect x="568.4" y="107.3" width="2.55" height="2.55" fill="#2c10fe"/><rect x="555.9" y="109.8" width="2.55" height="2.55" fill="#4910f9"/><rect x="558.4" y="109.8" width="2.55" height="2.55" fill="#08abff"/><rect x="560.9" y="109.8" width="2.55" height="2.55" fill="#29f027"/><rect x="563.4" y="109.8" width="2.55" height="2.55" fill="#93f211"/><rect x="565.9" y="109.8" width="2.55" height="2.55" fill="#6ef119"/><rect x="568.4" y="109.8" width="2.55" height="2.55" fill="#08e8d1"/><rect x="570.9" y="109.8" width="2.55" height="2.55" fill="#2323ff"/><rect x="548.4" y="112.3" width="2.55" height="2.55" fill="#6e10f3"/><rect x="550.9" y="112.3" width="2.55" height="2.55" fill="#5910f6"/><rect x="553.4" y="112.3" width="2.55" height="2.55" fill="#5010f8"/><rect x="555.9" y="112.3" width="2.55" height="2.55" fill="#0f7bff"/><rect x="558.4" y="112.3" width="2.55" height="2.55" fill="#2ff026"/><rect x="560.9" y="112.3" width="2.55" height="2.55" fill="#e9e400"/><rect x="563.4" y="112.3" width="2.55" height="2.55" fill="#f8a800"/><rect x="565.9" y="112.3" width="2.55" height="2.55" fill="#f4b800"/><rect x="568.4" y="112.3" width="2.55" height="2.55" fill="#a4f30d"/><rect x="570.9" y="112.3" width="2.55" height="2.55" fill="#02d6ff"/><rect x="573.4" y="112.3" width="2.55" height="2.55" fill="#5410f7"/><rect x="540.9" y="114.8" width="2.55" height="2.55" fill="#7010f2"/><rect x="543.4" y="114.8" width="2.55" height="2.55" fill="#3010fd"/><rect x="545.9" y="114.8" width="2.55" height="2.55" fill="#1851ff"/><rect x="548.4" y="114.8" width="2.55" height="2.55" fill="#0c8dff"/><rect x="550.9" y="114.8" width="2.55" height="2.55" fill="#07b5ff"/><rect x="553.4" y="114.8" width="2.55" height="2.55" fill="#04c4ff"/><rect x="555.9" y="114.8" width="2.55" height="2.55" fill="#06e7dd"/><rect x="558.4" y="114.8" width="2.55" height="2.55" fill="#acf30c"/><rect x="560.9" y="114.8" width="2.55" height="2.55" fill="#faa000"/><rect x="563.4" y="114.8" width="2.55" height="2.55" fill="#ff6000"/><rect x="565.9" y="114.8" width="2.55" height="2.55" fill="#ff6d00"/><rect x="568.4" y="114.8" width="2.55" height="2.55" fill="#f0ca00"/><rect x="570.9" y="114.8" width="2.55" height="2.55" fill="#26ef30"/><rect x="573.4" y="114.8" width="2.55" height="2.55" fill="#1d3cff"/><rect x="538.4" y="117.3" width="2.55" height="2.55" fill="#4b10f8"/><rect x="540.9" y="117.3" width="2.55" height="2.55" fill="#1755ff"/><rect x="543.4" y="117.3" width="2.55" height="2.55" fill="#05c3ff"/><rect x="545.9" y="117.3" width="2.55" height="2.55" fill="#0fe9ad"/><rect x="548.4" y="117.3" width="2.55" height="2.55" fill="#1fed54"/><rect x="550.9" y="117.3" width="2.55" height="2.55" fill="#2af027"/><rect x="553.4" y="117.3" width="2.55" height="2.55" fill="#34f025"/><rect x="555.9" y="117.3" width="2.55" height="2.55" fill="#2ff026"/><rect x="558.4" y="117.3" width="2.55" height="2.55" fill="#e6f200"/><rect x="560.9" y="117.3" width="2.55" height="2.55" fill="#ff7e00"/><rect x="563.4" y="117.3" width="2.55" height="2.55" fill="#ff4500"/><rect x="565.9" y="117.3" width="2.55" height="2.55" fill="#ff4e00"/><rect x="568.4" y="117.3" width="2.55" height="2.55" fill="#f8a600"/><rect x="570.9" y="117.3" width="2.55" height="2.55" fill="#6ef119"/><rect x="573.4" y="117.3" width="2.55" height="2.55" fill="#0e80ff"/><rect x="535.9" y="119.8" width="2.55" height="2.55" fill="#5010f8"/><rect x="538.4" y="119.8" width="2.55" height="2.55" fill="#1464ff"/><rect x="540.9" y="119.8" width="2.55" height="2.55" fill="#01e6f6"/><rect x="543.4" y="119.8" width="2.55" height="2.55" fill="#1fed53"/><rect x="545.9" y="119.8" width="2.55" height="2.55" fill="#48f021"/><rect x="548.4" y="119.8" width="2.55" height="2.55" fill="#67f11a"/><rect x="550.9" y="119.8" width="2.55" height="2.55" fill="#74f217"/><rect x="553.4" y="119.8" width="2.55" height="2.55" fill="#78f217"/><rect x="555.9" y="119.8" width="2.55" height="2.55" fill="#76f217"/><rect x="558.4" y="119.8" width="2.55" height="2.55" fill="#e7ed00"/><rect x="560.9" y="119.8" width="2.55" height="2.55" fill="#ff7b00"/><rect x="563.4" y="119.8" width="2.55" height="2.55" fill="#ff4400"/><rect x="565.9" y="119.8" width="2.55" height="2.55" fill="#ff4b00"/><rect x="568.4" y="119.8" width="2.55" height="2.55" fill="#f9a100"/><rect x="570.9" y="119.8" width="2.55" height="2.55" fill="#7ff215"/><rect x="573.4" y="119.8" width="2.55" height="2.55" fill="#0b98ff"/><rect x="533.4" y="122.3" width="2.55" height="2.55" fill="#7b10f0"/><rect x="535.9" y="122.3" width="2.55" height="2.55" fill="#212eff"/><rect x="538.4" y="122.3" width="2.55" height="2.55" fill="#04c6ff"/><rect x="540.9" y="122.3" width="2.55" height="2.55" fill="#1ced63"/><rect x="543.4" y="122.3" width="2.55" height="2.55" fill="#51f11f"/><rect x="545.9" y="122.3" width="2.55" height="2.55" fill="#79f216"/><rect x="548.4" y="122.3" width="2.55" height="2.55" fill="#89f213"/><rect x="550.9" y="122.3" width="2.55" height="2.55" fill="#8cf212"/><rect x="553.4" y="122.3" width="2.55" height="2.55" fill="#8af213"/><rect x="555.9" y="122.3" width="2.55" height="2.55" fill="#87f213"/><rect x="558.4" y="122.3" width="2.55" height="2.55" fill="#d3f403"/><rect x="560.9" y="122.3" width="2.55" height="2.55" fill="#fc9400"/><rect x="563.4" y="122.3" width="2.55" height="2.55" fill="#ff5700"/><rect x="565.9" y="122.3" width="2.55" height="2.55" fill="#ff6200"/><rect x="568.4" y="122.3" width="2.55" height="2.55" fill="#f4b900"/><rect x="570.9" y="122.3" width="2.55" height="2.55" fill="#5ef11c"/><rect x="573.4" y="122.3" width="2.55" height="2.55" fill="#0f7dff"/><rect x="533.4" y="124.8" width="2.55" height="2.55" fill="#6510f4"/><rect x="535.9" y="124.8" width="2.55" height="2.55" fill="#1757ff"/><rect x="538.4" y="124.8" width="2.55" height="2.55" fill="#04e7e6"/><rect x="540.9" y="124.8" width="2.55" height="2.55" fill="#2cf027"/><rect x="543.4" y="124.8" width="2.55" height="2.55" fill="#76f217"/><rect x="545.9" y="124.8" width="2.55" height="2.55" fill="#a0f30e"/><rect x="548.4" y="124.8" width="2.55" height="2.55" fill="#b0f30b"/><rect x="550.9" y="124.8" width="2.55" height="2.55" fill="#adf30b"/><rect x="553.4" y="124.8" width="2.55" height="2.55" fill="#9ef30e"/><rect x="555.9" y="124.8" width="2.55" height="2.55" fill="#8ff212"/><rect x="558.4" y="124.8" width="2.55" height="2.55" fill="#88f213"/><rect x="560.9" y="124.8" width="2.55" height="2.55" fill="#f1c500"/><rect x="563.4" y="124.8" width="2.55" height="2.55" fill="#fe8e00"/><rect x="565.9" y="124.8" width="2.55" height="2.55" fill="#fb9a00"/><rect x="568.4" y="124.8" width="2.55" height="2.55" fill="#e8eb00"/><rect x="570.9" y="124.8" width="2.55" height="2.55" fill="#1eed59"/><rect x="573.4" y="124.8" width="2.55" height="2.55" fill="#1e37ff"/><rect x="533.4" y="127.3" width="2.55" height="2.55" fill="#6810f3"/><rect x="535.9" y="127.3" width="2.55" height="2.55" fill="#1851ff"/><rect x="538.4" y="127.3" width="2.55" height="2.55" fill="#03e6ed"/><rect x="540.9" y="127.3" width="2.55" height="2.55" fill="#31f026"/><rect x="543.4" y="127.3" width="2.55" height="2.55" fill="#89f213"/><rect x="545.9" y="127.3" width="2.55" height="2.55" fill="#baf309"/><rect x="548.4" y="127.3" width="2.55" height="2.55" fill="#c9f406"/><rect x="550.9" y="127.3" width="2.55" height="2.55" fill="#c7f406"/><rect x="553.4" y="127.3" width="2.55" height="2.55" fill="#b6f309"/><rect x="555.9" y="127.3" width="2.55" height="2.55" fill="#9cf30f"/><rect x="558.4" y="127.3" width="2.55" height="2.55" fill="#8bf213"/><rect x="560.9" y="127.3" width="2.55" height="2.55" fill="#b2f30a"/><rect x="563.4" y="127.3" width="2.55" height="2.55" fill="#ebdf00"/><rect x="565.9" y="127.3" width="2.55" height="2.55" fill="#e7ed00"/><rect x="568.4" y="127.3" width="2.55" height="2.55" fill="#5ff11c"/><rect x="570.9" y="127.3" width="2.55" height="2.55" fill="#05beff"/><rect x="573.4" y="127.3" width="2.55" height="2.55" fill="#4a10f9"/><rect x="535.9" y="129.8" width="2.55" height="2.55" fill="#241eff"/><rect x="538.4" y="129.8" width="2.55" height="2.55" fill="#06b6ff"/><rect x="540.9" y="129.8" width="2.55" height="2.55" fill="#1ced63"/><rect x="543.4" y="129.8" width="2.55" height="2.55" fill="#6ef119"/><rect x="545.9" y="129.8" width="2.55" height="2.55" fill="#abf30c"/><rect x="548.4" y="129.8" width="2.55" height="2.55" fill="#c2f407"/><rect x="550.9" y="129.8" width="2.55" height="2.55" fill="#c5f406"/><rect x="553.4" y="129.8" width="2.55" height="2.55" fill="#b6f309"/><rect x="555.9" y="129.8" width="2.55" height="2.55" fill="#9bf30f"/><rect x="558.4" y="129.8" width="2.55" height="2.55" fill="#85f214"/><rect x="560.9" y="129.8" width="2.55" height="2.55" fill="#73f118"/><rect x="563.4" y="129.8" width="2.55" height="2.55" fill="#53f11e"/><rect x="565.9" y="129.8" width="2.55" height="2.55" fill="#22ee44"/><rect x="568.4" y="129.8" width="2.55" height="2.55" fill="#01dcff"/><rect x="570.9" y="129.8" width="2.55" height="2.55" fill="#1b47ff"/><rect x="573.4" y="129.8" width="2.55" height="2.55" fill="#6b10f3"/><rect x="535.9" y="132.3" width="2.55" height="2.55" fill="#6110f5"/><rect x="538.4" y="132.3" width="2.55" height="2.55" fill="#1a48ff"/><rect x="540.9" y="132.3" width="2.55" height="2.55" fill="#02d2ff"/><rect x="543.4" y="132.3" width="2.55" height="2.55" fill="#1eed58"/><rect x="545.9" y="132.3" width="2.55" height="2.55" fill="#5df11c"/><rect x="548.4" y="132.3" width="2.55" height="2.55" fill="#89f213"/><rect x="550.9" y="132.3" width="2.55" height="2.55" fill="#95f210"/><rect x="553.4" y="132.3" width="2.55" height="2.55" fill="#8af213"/><rect x="555.9" y="132.3" width="2.55" height="2.55" fill="#76f217"/><rect x="558.4" y="132.3" width="2.55" height="2.55" fill="#61f11b"/><rect x="560.9" y="132.3" width="2.55" height="2.55" fill="#42f022"/><rect x="563.4" y="132.3" width="2.55" height="2.55" fill="#1eed59"/><rect x="565.9" y="132.3" width="2.55" height="2.55" fill="#02e6f3"/><rect x="568.4" y="132.3" width="2.55" height="2.55" fill="#126cff"/><rect x="570.9" y="132.3" width="2.55" height="2.55" fill="#4610f9"/><rect x="538.4" y="134.8" width="2.55" height="2.55" fill="#6410f4"/><rect x="540.9" y="134.8" width="2.55" height="2.55" fill="#202fff"/><rect x="543.4" y="134.8" width="2.55" height="2.55" fill="#0a9aff"/><rect x="545.9" y="134.8" width="2.55" height="2.55" fill="#05e7e3"/><rect x="548.4" y="134.8" width="2.55" height="2.55" fill="#18ec7d"/><rect x="550.9" y="134.8" width="2.55" height="2.55" fill="#21ee49"/><rect x="553.4" y="134.8" width="2.55" height="2.55" fill="#23ee3e"/><rect x="555.9" y="134.8" width="2.55" height="2.55" fill="#20ee4f"/><rect x="558.4" y="134.8" width="2.55" height="2.55" fill="#18ec7d"/><rect x="560.9" y="134.8" width="2.55" height="2.55" fill="#08e8d2"/><rect x="563.4" y="134.8" width="2.55" height="2.55" fill="#07b1ff"/><rect x="565.9" y="134.8" width="2.55" height="2.55" fill="#1a4cff"/><rect x="568.4" y="134.8" width="2.55" height="2.55" fill="#4d10f8"/><rect x="543.4" y="137.3" width="2.55" height="2.55" fill="#5310f7"/><rect x="545.9" y="137.3" width="2.55" height="2.55" fill="#241fff"/><rect x="548.4" y="137.3" width="2.55" height="2.55" fill="#1757ff"/><rect x="550.9" y="137.3" width="2.55" height="2.55" fill="#0f7cff"/><rect x="553.4" y="137.3" width="2.55" height="2.55" fill="#0d8bff"/><rect x="555.9" y="137.3" width="2.55" height="2.55" fill="#0e82ff"/><rect x="558.4" y="137.3" width="2.55" height="2.55" fill="#1463ff"/><rect x="560.9" y="137.3" width="2.55" height="2.55" fill="#2030ff"/><rect x="563.4" y="137.3" width="2.55" height="2.55" fill="#4310fa"/><rect x="565.9" y="137.3" width="2.55" height="2.55" fill="#7b10f0"/><rect x="550.9" y="139.8" width="2.55" height="2.55" fill="#7c10f0"/><rect x="553.4" y="139.8" width="2.55" height="2.55" fill="#7510f1"/><rect x="555.9" y="139.8" width="2.55" height="2.55" fill="#7910f1"/></g>
<g filter="url(#b04)" shape-rendering="crispEdges"><rect x="583.4" y="42.3" width="2.55" height="2.55" fill="#7510f1"/><rect x="585.9" y="42.3" width="2.55" height="2.55" fill="#3810fc"/><rect x="588.4" y="42.3" width="2.55" height="2.55" fill="#6210f5"/><rect x="583.4" y="44.8" width="2.55" height="2.55" fill="#5310f7"/><rect x="585.9" y="44.8" width="2.55" height="2.55" fill="#1a4aff"/><rect x="588.4" y="44.8" width="2.55" height="2.55" fill="#1a4cff"/><rect x="590.9" y="44.8" width="2.55" height="2.55" fill="#4710f9"/><rect x="583.4" y="47.3" width="2.55" height="2.55" fill="#7410f1"/><rect x="585.9" y="47.3" width="2.55" height="2.55" fill="#1950ff"/><rect x="588.4" y="47.3" width="2.55" height="2.55" fill="#165cff"/><rect x="590.9" y="47.3" width="2.55" height="2.55" fill="#194dff"/><rect x="593.4" y="47.3" width="2.55" height="2.55" fill="#7d10f0"/><rect x="585.9" y="49.8" width="2.55" height="2.55" fill="#241fff"/><rect x="588.4" y="49.8" width="2.55" height="2.55" fill="#165bff"/><rect x="590.9" y="49.8" width="2.55" height="2.55" fill="#1659ff"/><rect x="593.4" y="49.8" width="2.55" height="2.55" fill="#3510fc"/><rect x="588.4" y="52.3" width="2.55" height="2.55" fill="#2228ff"/><rect x="590.9" y="52.3" width="2.55" height="2.55" fill="#1b47ff"/><rect x="593.4" y="52.3" width="2.55" height="2.55" fill="#3010fd"/><rect x="590.9" y="54.8" width="2.55" height="2.55" fill="#5b10f6"/><rect x="593.4" y="54.8" width="2.55" height="2.55" fill="#7010f2"/></g>
<g filter="url(#b04)" shape-rendering="crispEdges"><rect x="588.4" y="79.8" width="2.55" height="2.55" fill="#7010f2"/><rect x="590.9" y="79.8" width="2.55" height="2.55" fill="#2420ff"/><rect x="593.4" y="79.8" width="2.55" height="2.55" fill="#2d10fe"/><rect x="588.4" y="82.3" width="2.55" height="2.55" fill="#2712ff"/><rect x="590.9" y="82.3" width="2.55" height="2.55" fill="#202fff"/><rect x="593.4" y="82.3" width="2.55" height="2.55" fill="#202eff"/><rect x="588.4" y="84.8" width="2.55" height="2.55" fill="#5410f7"/><rect x="590.9" y="84.8" width="2.55" height="2.55" fill="#212aff"/><rect x="593.4" y="84.8" width="2.55" height="2.55" fill="#241dff"/></g>
<g filter="url(#b04)" shape-rendering="crispEdges"><rect x="590.9" y="117.3" width="2.55" height="2.55" fill="#5b10f6"/><rect x="588.4" y="119.8" width="2.55" height="2.55" fill="#5310f7"/><rect x="590.9" y="119.8" width="2.55" height="2.55" fill="#4610f9"/><rect x="588.4" y="122.3" width="2.55" height="2.55" fill="#5e10f5"/><rect x="590.9" y="122.3" width="2.55" height="2.55" fill="#4710f9"/></g>
<g filter="url(#b04)" shape-rendering="crispEdges"><rect x="603.4" y="39.8" width="2.55" height="2.55" fill="#6310f4"/><rect x="605.9" y="39.8" width="2.55" height="2.55" fill="#6110f5"/><rect x="610.9" y="39.8" width="2.55" height="2.55" fill="#6910f3"/><rect x="613.4" y="39.8" width="2.55" height="2.55" fill="#2810fe"/><rect x="615.9" y="39.8" width="2.55" height="2.55" fill="#3910fb"/><rect x="600.9" y="42.3" width="2.55" height="2.55" fill="#4e10f8"/><rect x="603.4" y="42.3" width="2.55" height="2.55" fill="#212bff"/><rect x="605.9" y="42.3" width="2.55" height="2.55" fill="#202eff"/><rect x="608.4" y="42.3" width="2.55" height="2.55" fill="#241fff"/><rect x="610.9" y="42.3" width="2.55" height="2.55" fill="#1463ff"/><rect x="613.4" y="42.3" width="2.55" height="2.55" fill="#09a6ff"/><rect x="615.9" y="42.3" width="2.55" height="2.55" fill="#0c8eff"/><rect x="618.4" y="42.3" width="2.55" height="2.55" fill="#3e10fb"/><rect x="600.9" y="44.8" width="2.55" height="2.55" fill="#241eff"/><rect x="603.4" y="44.8" width="2.55" height="2.55" fill="#1755ff"/><rect x="605.9" y="44.8" width="2.55" height="2.55" fill="#1659ff"/><rect x="608.4" y="44.8" width="2.55" height="2.55" fill="#0d88ff"/><rect x="610.9" y="44.8" width="2.55" height="2.55" fill="#00e6fa"/><rect x="613.4" y="44.8" width="2.55" height="2.55" fill="#01e6f8"/><rect x="615.9" y="44.8" width="2.55" height="2.55" fill="#02d7ff"/><rect x="618.4" y="44.8" width="2.55" height="2.55" fill="#1a4bff"/><rect x="598.4" y="47.3" width="2.55" height="2.55" fill="#7f10f0"/><rect x="600.9" y="47.3" width="2.55" height="2.55" fill="#2030ff"/><rect x="603.4" y="47.3" width="2.55" height="2.55" fill="#165bff"/><rect x="605.9" y="47.3" width="2.55" height="2.55" fill="#1560ff"/><rect x="608.4" y="47.3" width="2.55" height="2.55" fill="#07afff"/><rect x="610.9" y="47.3" width="2.55" height="2.55" fill="#0ee9b2"/><rect x="613.4" y="47.3" width="2.55" height="2.55" fill="#04e7e7"/><rect x="615.9" y="47.3" width="2.55" height="2.55" fill="#00e5ff"/><rect x="618.4" y="47.3" width="2.55" height="2.55" fill="#1368ff"/><rect x="600.9" y="49.8" width="2.55" height="2.55" fill="#251cff"/><rect x="603.4" y="49.8" width="2.55" height="2.55" fill="#1854ff"/><rect x="605.9" y="49.8" width="2.55" height="2.55" fill="#1759ff"/><rect x="608.4" y="49.8" width="2.55" height="2.55" fill="#0e85ff"/><rect x="610.9" y="49.8" width="2.55" height="2.55" fill="#00e4ff"/><rect x="613.4" y="49.8" width="2.55" height="2.55" fill="#00e6fa"/><rect x="615.9" y="49.8" width="2.55" height="2.55" fill="#02d6ff"/><rect x="618.4" y="49.8" width="2.55" height="2.55" fill="#1a49ff"/><rect x="600.9" y="52.3" width="2.55" height="2.55" fill="#5010f8"/><rect x="603.4" y="52.3" width="2.55" height="2.55" fill="#2228ff"/><rect x="605.9" y="52.3" width="2.55" height="2.55" fill="#212bff"/><rect x="608.4" y="52.3" width="2.55" height="2.55" fill="#251aff"/><rect x="610.9" y="52.3" width="2.55" height="2.55" fill="#165dff"/><rect x="613.4" y="52.3" width="2.55" height="2.55" fill="#09a1ff"/><rect x="615.9" y="52.3" width="2.55" height="2.55" fill="#0d89ff"/><rect x="618.4" y="52.3" width="2.55" height="2.55" fill="#4110fa"/><rect x="603.4" y="54.8" width="2.55" height="2.55" fill="#6710f4"/><rect x="605.9" y="54.8" width="2.55" height="2.55" fill="#6510f4"/><rect x="610.9" y="54.8" width="2.55" height="2.55" fill="#6e10f3"/><rect x="613.4" y="54.8" width="2.55" height="2.55" fill="#2e10fd"/><rect x="615.9" y="54.8" width="2.55" height="2.55" fill="#3f10fb"/></g>
<g filter="url(#b04)" shape-rendering="crispEdges"><rect x="603.4" y="74.8" width="2.55" height="2.55" fill="#7c10f0"/><rect x="605.9" y="74.8" width="2.55" height="2.55" fill="#4610f9"/><rect x="608.4" y="74.8" width="2.55" height="2.55" fill="#3a10fb"/><rect x="610.9" y="74.8" width="2.55" height="2.55" fill="#5610f7"/><rect x="613.4" y="74.8" width="2.55" height="2.55" fill="#6610f4"/><rect x="615.9" y="74.8" width="2.55" height="2.55" fill="#5410f7"/><rect x="618.4" y="74.8" width="2.55" height="2.55" fill="#5710f6"/><rect x="603.4" y="77.3" width="2.55" height="2.55" fill="#3710fc"/><rect x="605.9" y="77.3" width="2.55" height="2.55" fill="#1c41ff"/><rect x="608.4" y="77.3" width="2.55" height="2.55" fill="#194dff"/><rect x="610.9" y="77.3" width="2.55" height="2.55" fill="#194eff"/><rect x="613.4" y="77.3" width="2.55" height="2.55" fill="#1367ff"/><rect x="615.9" y="77.3" width="2.55" height="2.55" fill="#1464ff"/><rect x="618.4" y="77.3" width="2.55" height="2.55" fill="#194fff"/><rect x="620.9" y="77.3" width="2.55" height="2.55" fill="#3910fc"/><rect x="600.9" y="79.8" width="2.55" height="2.55" fill="#7610f1"/><rect x="603.4" y="79.8" width="2.55" height="2.55" fill="#202eff"/><rect x="605.9" y="79.8" width="2.55" height="2.55" fill="#1561ff"/><rect x="608.4" y="79.8" width="2.55" height="2.55" fill="#136aff"/><rect x="610.9" y="79.8" width="2.55" height="2.55" fill="#0a9fff"/><rect x="613.4" y="79.8" width="2.55" height="2.55" fill="#00e5ff"/><rect x="615.9" y="79.8" width="2.55" height="2.55" fill="#07afff"/><rect x="618.4" y="79.8" width="2.55" height="2.55" fill="#0e85ff"/><rect x="620.9" y="79.8" width="2.55" height="2.55" fill="#1c43ff"/><rect x="600.9" y="82.3" width="2.55" height="2.55" fill="#6e10f3"/><rect x="603.4" y="82.3" width="2.55" height="2.55" fill="#1e38ff"/><rect x="605.9" y="82.3" width="2.55" height="2.55" fill="#1465ff"/><rect x="608.4" y="82.3" width="2.55" height="2.55" fill="#126dff"/><rect x="610.9" y="82.3" width="2.55" height="2.55" fill="#06b8ff"/><rect x="613.4" y="82.3" width="2.55" height="2.55" fill="#0ae8c5"/><rect x="615.9" y="82.3" width="2.55" height="2.55" fill="#05beff"/><rect x="618.4" y="82.3" width="2.55" height="2.55" fill="#0c8dff"/><rect x="620.9" y="82.3" width="2.55" height="2.55" fill="#1759ff"/><rect x="623.4" y="82.3" width="2.55" height="2.55" fill="#7210f2"/><rect x="603.4" y="84.8" width="2.55" height="2.55" fill="#241eff"/><rect x="605.9" y="84.8" width="2.55" height="2.55" fill="#1759ff"/><rect x="608.4" y="84.8" width="2.55" height="2.55" fill="#1464ff"/><rect x="610.9" y="84.8" width="2.55" height="2.55" fill="#0c90ff"/><rect x="613.4" y="84.8" width="2.55" height="2.55" fill="#02d1ff"/><rect x="615.9" y="84.8" width="2.55" height="2.55" fill="#09a7ff"/><rect x="618.4" y="84.8" width="2.55" height="2.55" fill="#0e83ff"/><rect x="620.9" y="84.8" width="2.55" height="2.55" fill="#1c41ff"/><rect x="603.4" y="87.3" width="2.55" height="2.55" fill="#5410f7"/><rect x="605.9" y="87.3" width="2.55" height="2.55" fill="#2322ff"/><rect x="608.4" y="87.3" width="2.55" height="2.55" fill="#2030ff"/><rect x="610.9" y="87.3" width="2.55" height="2.55" fill="#212aff"/><rect x="613.4" y="87.3" width="2.55" height="2.55" fill="#1b47ff"/><rect x="615.9" y="87.3" width="2.55" height="2.55" fill="#1758ff"/><rect x="618.4" y="87.3" width="2.55" height="2.55" fill="#1a4bff"/><rect x="620.9" y="87.3" width="2.55" height="2.55" fill="#3c10fb"/><rect x="605.9" y="89.8" width="2.55" height="2.55" fill="#6f10f2"/><rect x="608.4" y="89.8" width="2.55" height="2.55" fill="#6410f4"/><rect x="610.9" y="89.8" width="2.55" height="2.55" fill="#7b10f0"/><rect x="613.4" y="89.8" width="2.55" height="2.55" fill="#7c10f0"/><rect x="615.9" y="89.8" width="2.55" height="2.55" fill="#5c10f6"/><rect x="618.4" y="89.8" width="2.55" height="2.55" fill="#5c10f6"/></g>
<g filter="url(#b04)" shape-rendering="crispEdges"><rect x="605.9" y="114.8" width="2.55" height="2.55" fill="#6f10f2"/><rect x="608.4" y="114.8" width="2.55" height="2.55" fill="#7610f1"/><rect x="613.4" y="114.8" width="2.55" height="2.55" fill="#7510f1"/><rect x="615.9" y="114.8" width="2.55" height="2.55" fill="#6010f5"/><rect x="603.4" y="117.3" width="2.55" height="2.55" fill="#5410f7"/><rect x="605.9" y="117.3" width="2.55" height="2.55" fill="#2615ff"/><rect x="608.4" y="117.3" width="2.55" height="2.55" fill="#2615ff"/><rect x="610.9" y="117.3" width="2.55" height="2.55" fill="#2714ff"/><rect x="613.4" y="117.3" width="2.55" height="2.55" fill="#2323ff"/><rect x="615.9" y="117.3" width="2.55" height="2.55" fill="#202fff"/><rect x="618.4" y="117.3" width="2.55" height="2.55" fill="#3210fd"/><rect x="603.4" y="119.8" width="2.55" height="2.55" fill="#2614ff"/><rect x="605.9" y="119.8" width="2.55" height="2.55" fill="#1d3fff"/><rect x="608.4" y="119.8" width="2.55" height="2.55" fill="#1851ff"/><rect x="610.9" y="119.8" width="2.55" height="2.55" fill="#0d86ff"/><rect x="613.4" y="119.8" width="2.55" height="2.55" fill="#1076ff"/><rect x="615.9" y="119.8" width="2.55" height="2.55" fill="#1560ff"/><rect x="618.4" y="119.8" width="2.55" height="2.55" fill="#1c42ff"/><rect x="620.9" y="119.8" width="2.55" height="2.55" fill="#6110f5"/><rect x="600.9" y="122.3" width="2.55" height="2.55" fill="#7810f1"/><rect x="603.4" y="122.3" width="2.55" height="2.55" fill="#2229ff"/><rect x="605.9" y="122.3" width="2.55" height="2.55" fill="#1b46ff"/><rect x="608.4" y="122.3" width="2.55" height="2.55" fill="#1466ff"/><rect x="610.9" y="122.3" width="2.55" height="2.55" fill="#05beff"/><rect x="613.4" y="122.3" width="2.55" height="2.55" fill="#0b99ff"/><rect x="615.9" y="122.3" width="2.55" height="2.55" fill="#136aff"/><rect x="618.4" y="122.3" width="2.55" height="2.55" fill="#1758ff"/><rect x="620.9" y="122.3" width="2.55" height="2.55" fill="#4810f9"/><rect x="603.4" y="124.8" width="2.55" height="2.55" fill="#2420ff"/><rect x="605.9" y="124.8" width="2.55" height="2.55" fill="#1b44ff"/><rect x="608.4" y="124.8" width="2.55" height="2.55" fill="#1560ff"/><rect x="610.9" y="124.8" width="2.55" height="2.55" fill="#08aeff"/><rect x="613.4" y="124.8" width="2.55" height="2.55" fill="#0c90ff"/><rect x="615.9" y="124.8" width="2.55" height="2.55" fill="#1369ff"/><rect x="618.4" y="124.8" width="2.55" height="2.55" fill="#1755ff"/><rect x="620.9" y="124.8" width="2.55" height="2.55" fill="#4b10f8"/><rect x="603.4" y="127.3" width="2.55" height="2.55" fill="#3e10fb"/><rect x="605.9" y="127.3" width="2.55" height="2.55" fill="#212aff"/><rect x="608.4" y="127.3" width="2.55" height="2.55" fill="#1f36ff"/><rect x="610.9" y="127.3" width="2.55" height="2.55" fill="#1758ff"/><rect x="613.4" y="127.3" width="2.55" height="2.55" fill="#165dff"/><rect x="615.9" y="127.3" width="2.55" height="2.55" fill="#1759ff"/><rect x="618.4" y="127.3" width="2.55" height="2.55" fill="#1e37ff"/><rect x="620.9" y="127.3" width="2.55" height="2.55" fill="#6a10f3"/><rect x="603.4" y="129.8" width="2.55" height="2.55" fill="#7f10f0"/><rect x="605.9" y="129.8" width="2.55" height="2.55" fill="#5110f7"/><rect x="608.4" y="129.8" width="2.55" height="2.55" fill="#5410f7"/><rect x="610.9" y="129.8" width="2.55" height="2.55" fill="#5610f7"/><rect x="613.4" y="129.8" width="2.55" height="2.55" fill="#3310fd"/><rect x="615.9" y="129.8" width="2.55" height="2.55" fill="#251bff"/><rect x="618.4" y="129.8" width="2.55" height="2.55" fill="#4310fa"/><rect x="615.9" y="132.3" width="2.55" height="2.55" fill="#7610f1"/></g>
<g filter="url(#b04)" shape-rendering="crispEdges"><rect x="633.4" y="42.3" width="2.55" height="2.55" fill="#5010f8"/><rect x="635.9" y="42.3" width="2.55" height="2.55" fill="#2324ff"/><rect x="638.4" y="42.3" width="2.55" height="2.55" fill="#1c41ff"/><rect x="640.9" y="42.3" width="2.55" height="2.55" fill="#1d3cff"/><rect x="643.4" y="42.3" width="2.55" height="2.55" fill="#2712ff"/><rect x="645.9" y="42.3" width="2.55" height="2.55" fill="#6910f3"/><rect x="630.9" y="44.8" width="2.55" height="2.55" fill="#2810fe"/><rect x="633.4" y="44.8" width="2.55" height="2.55" fill="#0e7fff"/><rect x="635.9" y="44.8" width="2.55" height="2.55" fill="#09a7ff"/><rect x="638.4" y="44.8" width="2.55" height="2.55" fill="#0a9bff"/><rect x="640.9" y="44.8" width="2.55" height="2.55" fill="#0b97ff"/><rect x="643.4" y="44.8" width="2.55" height="2.55" fill="#0c93ff"/><rect x="645.9" y="44.8" width="2.55" height="2.55" fill="#1170ff"/><rect x="648.4" y="44.8" width="2.55" height="2.55" fill="#4610f9"/><rect x="628.4" y="47.3" width="2.55" height="2.55" fill="#5710f6"/><rect x="630.9" y="47.3" width="2.55" height="2.55" fill="#0e81ff"/><rect x="633.4" y="47.3" width="2.55" height="2.55" fill="#1ced63"/><rect x="635.9" y="47.3" width="2.55" height="2.55" fill="#22ee45"/><rect x="638.4" y="47.3" width="2.55" height="2.55" fill="#03d0ff"/><rect x="640.9" y="47.3" width="2.55" height="2.55" fill="#08abff"/><rect x="643.4" y="47.3" width="2.55" height="2.55" fill="#10eaa8"/><rect x="645.9" y="47.3" width="2.55" height="2.55" fill="#21ee4b"/><rect x="648.4" y="47.3" width="2.55" height="2.55" fill="#0aa0ff"/><rect x="650.9" y="47.3" width="2.55" height="2.55" fill="#7c10f0"/><rect x="628.4" y="49.8" width="2.55" height="2.55" fill="#3e10fb"/><rect x="630.9" y="49.8" width="2.55" height="2.55" fill="#08aeff"/><rect x="633.4" y="49.8" width="2.55" height="2.55" fill="#38f024"/><rect x="635.9" y="49.8" width="2.55" height="2.55" fill="#43f022"/><rect x="638.4" y="49.8" width="2.55" height="2.55" fill="#02e6f3"/><rect x="640.9" y="49.8" width="2.55" height="2.55" fill="#07b3ff"/><rect x="643.4" y="49.8" width="2.55" height="2.55" fill="#1fed54"/><rect x="645.9" y="49.8" width="2.55" height="2.55" fill="#40f022"/><rect x="648.4" y="49.8" width="2.55" height="2.55" fill="#00e6f9"/><rect x="650.9" y="49.8" width="2.55" height="2.55" fill="#6310f4"/><rect x="628.4" y="52.3" width="2.55" height="2.55" fill="#5910f6"/><rect x="630.9" y="52.3" width="2.55" height="2.55" fill="#136aff"/><rect x="633.4" y="52.3" width="2.55" height="2.55" fill="#06e7de"/><rect x="635.9" y="52.3" width="2.55" height="2.55" fill="#0be8c1"/><rect x="638.4" y="52.3" width="2.55" height="2.55" fill="#06b6ff"/><rect x="640.9" y="52.3" width="2.55" height="2.55" fill="#09a5ff"/><rect x="643.4" y="52.3" width="2.55" height="2.55" fill="#01deff"/><rect x="645.9" y="52.3" width="2.55" height="2.55" fill="#09e8cb"/><rect x="648.4" y="52.3" width="2.55" height="2.55" fill="#136aff"/><rect x="630.9" y="54.8" width="2.55" height="2.55" fill="#2e10fd"/><rect x="633.4" y="54.8" width="2.55" height="2.55" fill="#1369ff"/><rect x="635.9" y="54.8" width="2.55" height="2.55" fill="#0c90ff"/><rect x="638.4" y="54.8" width="2.55" height="2.55" fill="#0b97ff"/><rect x="640.9" y="54.8" width="2.55" height="2.55" fill="#0b95ff"/><rect x="643.4" y="54.8" width="2.55" height="2.55" fill="#0d86ff"/><rect x="645.9" y="54.8" width="2.55" height="2.55" fill="#1853ff"/><rect x="648.4" y="54.8" width="2.55" height="2.55" fill="#5110f7"/><rect x="633.4" y="57.3" width="2.55" height="2.55" fill="#5610f7"/><rect x="635.9" y="57.3" width="2.55" height="2.55" fill="#241dff"/><rect x="638.4" y="57.3" width="2.55" height="2.55" fill="#1e3aff"/><rect x="640.9" y="57.3" width="2.55" height="2.55" fill="#1f35ff"/><rect x="643.4" y="57.3" width="2.55" height="2.55" fill="#2b10fe"/><rect x="645.9" y="57.3" width="2.55" height="2.55" fill="#6e10f2"/></g>
<g filter="url(#b04)" shape-rendering="crispEdges"><rect x="638.4" y="72.3" width="2.55" height="2.55" fill="#6810f3"/><rect x="640.9" y="72.3" width="2.55" height="2.55" fill="#5810f6"/><rect x="643.4" y="72.3" width="2.55" height="2.55" fill="#6c10f3"/><rect x="633.4" y="74.8" width="2.55" height="2.55" fill="#5410f7"/><rect x="635.9" y="74.8" width="2.55" height="2.55" fill="#194dff"/><rect x="638.4" y="74.8" width="2.55" height="2.55" fill="#0e83ff"/><rect x="640.9" y="74.8" width="2.55" height="2.55" fill="#0c90ff"/><rect x="643.4" y="74.8" width="2.55" height="2.55" fill="#0e82ff"/><rect x="645.9" y="74.8" width="2.55" height="2.55" fill="#1b45ff"/><rect x="648.4" y="74.8" width="2.55" height="2.55" fill="#6210f5"/><rect x="630.9" y="77.3" width="2.55" height="2.55" fill="#6910f3"/><rect x="633.4" y="77.3" width="2.55" height="2.55" fill="#1077ff"/><rect x="635.9" y="77.3" width="2.55" height="2.55" fill="#01ddff"/><rect x="638.4" y="77.3" width="2.55" height="2.55" fill="#03ccff"/><rect x="640.9" y="77.3" width="2.55" height="2.55" fill="#04c7ff"/><rect x="643.4" y="77.3" width="2.55" height="2.55" fill="#0be8bf"/><rect x="645.9" y="77.3" width="2.55" height="2.55" fill="#07e7d8"/><rect x="648.4" y="77.3" width="2.55" height="2.55" fill="#1560ff"/><rect x="650.9" y="77.3" width="2.55" height="2.55" fill="#7b10f0"/><rect x="630.9" y="79.8" width="2.55" height="2.55" fill="#2f10fd"/><rect x="633.4" y="79.8" width="2.55" height="2.55" fill="#02e6ef"/><rect x="635.9" y="79.8" width="2.55" height="2.55" fill="#1ced67"/><rect x="638.4" y="79.8" width="2.55" height="2.55" fill="#0ce9b9"/><rect x="640.9" y="79.8" width="2.55" height="2.55" fill="#03e6ec"/><rect x="643.4" y="79.8" width="2.55" height="2.55" fill="#2bf027"/><rect x="645.9" y="79.8" width="2.55" height="2.55" fill="#29f027"/><rect x="648.4" y="79.8" width="2.55" height="2.55" fill="#05beff"/><rect x="650.9" y="79.8" width="2.55" height="2.55" fill="#4810f9"/><rect x="630.9" y="82.3" width="2.55" height="2.55" fill="#3810fc"/><rect x="633.4" y="82.3" width="2.55" height="2.55" fill="#01ddff"/><rect x="635.9" y="82.3" width="2.55" height="2.55" fill="#19ec78"/><rect x="638.4" y="82.3" width="2.55" height="2.55" fill="#09e8ce"/><rect x="640.9" y="82.3" width="2.55" height="2.55" fill="#01daff"/><rect x="643.4" y="82.3" width="2.55" height="2.55" fill="#1bec68"/><rect x="645.9" y="82.3" width="2.55" height="2.55" fill="#1bec6b"/><rect x="648.4" y="82.3" width="2.55" height="2.55" fill="#0a9eff"/><rect x="650.9" y="82.3" width="2.55" height="2.55" fill="#5010f8"/><rect x="630.9" y="84.8" width="2.55" height="2.55" fill="#7d10f0"/><rect x="633.4" y="84.8" width="2.55" height="2.55" fill="#1854ff"/><rect x="635.9" y="84.8" width="2.55" height="2.55" fill="#06baff"/><rect x="638.4" y="84.8" width="2.55" height="2.55" fill="#05bdff"/><rect x="640.9" y="84.8" width="2.55" height="2.55" fill="#06b8ff"/><rect x="643.4" y="84.8" width="2.55" height="2.55" fill="#05c1ff"/><rect x="645.9" y="84.8" width="2.55" height="2.55" fill="#09a6ff"/><rect x="648.4" y="84.8" width="2.55" height="2.55" fill="#1e39ff"/><rect x="633.4" y="87.3" width="2.55" height="2.55" fill="#7610f1"/><rect x="635.9" y="87.3" width="2.55" height="2.55" fill="#2323ff"/><rect x="638.4" y="87.3" width="2.55" height="2.55" fill="#1462ff"/><rect x="640.9" y="87.3" width="2.55" height="2.55" fill="#1172ff"/><rect x="643.4" y="87.3" width="2.55" height="2.55" fill="#165dff"/><rect x="645.9" y="87.3" width="2.55" height="2.55" fill="#2617ff"/></g>
<g filter="url(#b04)" shape-rendering="crispEdges"><rect x="633.4" y="109.8" width="2.55" height="2.55" fill="#7c10f0"/><rect x="635.9" y="109.8" width="2.55" height="2.55" fill="#6010f5"/><rect x="630.9" y="112.3" width="2.55" height="2.55" fill="#1d3eff"/><rect x="633.4" y="112.3" width="2.55" height="2.55" fill="#13ea94"/><rect x="635.9" y="112.3" width="2.55" height="2.55" fill="#1ded5f"/><rect x="638.4" y="112.3" width="2.55" height="2.55" fill="#03ceff"/><rect x="630.9" y="114.8" width="2.55" height="2.55" fill="#15eb8b"/><rect x="633.4" y="114.8" width="2.55" height="2.55" fill="#49f020"/><rect x="635.9" y="114.8" width="2.55" height="2.55" fill="#4df020"/><rect x="638.4" y="114.8" width="2.55" height="2.55" fill="#34f025"/><rect x="640.9" y="114.8" width="2.55" height="2.55" fill="#126cff"/><rect x="645.9" y="114.8" width="2.55" height="2.55" fill="#4510f9"/><rect x="648.4" y="114.8" width="2.55" height="2.55" fill="#241eff"/><rect x="628.4" y="117.3" width="2.55" height="2.55" fill="#5210f7"/><rect x="630.9" y="117.3" width="2.55" height="2.55" fill="#24ef3a"/><rect x="633.4" y="117.3" width="2.55" height="2.55" fill="#4ef11f"/><rect x="635.9" y="117.3" width="2.55" height="2.55" fill="#4ef11f"/><rect x="638.4" y="117.3" width="2.55" height="2.55" fill="#47f021"/><rect x="640.9" y="117.3" width="2.55" height="2.55" fill="#04c3ff"/><rect x="643.4" y="117.3" width="2.55" height="2.55" fill="#1c41ff"/><rect x="645.9" y="117.3" width="2.55" height="2.55" fill="#1bec6d"/><rect x="648.4" y="117.3" width="2.55" height="2.55" fill="#24ef39"/><rect x="650.9" y="117.3" width="2.55" height="2.55" fill="#01ddff"/><rect x="630.9" y="119.8" width="2.55" height="2.55" fill="#13ea93"/><rect x="633.4" y="119.8" width="2.55" height="2.55" fill="#48f021"/><rect x="635.9" y="119.8" width="2.55" height="2.55" fill="#4cf020"/><rect x="638.4" y="119.8" width="2.55" height="2.55" fill="#32f025"/><rect x="640.9" y="119.8" width="2.55" height="2.55" fill="#0d89ff"/><rect x="643.4" y="119.8" width="2.55" height="2.55" fill="#0ce9b9"/><rect x="645.9" y="119.8" width="2.55" height="2.55" fill="#49f020"/><rect x="648.4" y="119.8" width="2.55" height="2.55" fill="#4df020"/><rect x="650.9" y="119.8" width="2.55" height="2.55" fill="#2ff026"/><rect x="653.4" y="119.8" width="2.55" height="2.55" fill="#2321ff"/><rect x="630.9" y="122.3" width="2.55" height="2.55" fill="#2031ff"/><rect x="633.4" y="122.3" width="2.55" height="2.55" fill="#10eaa4"/><rect x="635.9" y="122.3" width="2.55" height="2.55" fill="#1bec6d"/><rect x="638.4" y="122.3" width="2.55" height="2.55" fill="#05c0ff"/><rect x="640.9" y="122.3" width="2.55" height="2.55" fill="#5c10f6"/><rect x="643.4" y="122.3" width="2.55" height="2.55" fill="#1bec6a"/><rect x="645.9" y="122.3" width="2.55" height="2.55" fill="#4ef11f"/><rect x="648.4" y="122.3" width="2.55" height="2.55" fill="#4ef11f"/><rect x="650.9" y="122.3" width="2.55" height="2.55" fill="#42f022"/><rect x="653.4" y="122.3" width="2.55" height="2.55" fill="#1366ff"/><rect x="635.9" y="124.8" width="2.55" height="2.55" fill="#6d10f3"/><rect x="643.4" y="124.8" width="2.55" height="2.55" fill="#0ae8c8"/><rect x="645.9" y="124.8" width="2.55" height="2.55" fill="#49f021"/><rect x="648.4" y="124.8" width="2.55" height="2.55" fill="#4df020"/><rect x="650.9" y="124.8" width="2.55" height="2.55" fill="#2df026"/><rect x="653.4" y="124.8" width="2.55" height="2.55" fill="#251cff"/><rect x="643.4" y="127.3" width="2.55" height="2.55" fill="#212aff"/><rect x="645.9" y="127.3" width="2.55" height="2.55" fill="#18ec7a"/><rect x="648.4" y="127.3" width="2.55" height="2.55" fill="#22ee43"/><rect x="650.9" y="127.3" width="2.55" height="2.55" fill="#02d2ff"/><rect x="645.9" y="129.8" width="2.55" height="2.55" fill="#5210f7"/><rect x="648.4" y="129.8" width="2.55" height="2.55" fill="#2910fe"/></g>
<rect x="672.2" y="49.2" width="4.0" height="84.7" fill="url(#jetv)"/>
<text transform="translate(673.70 46.50) scale(1 1.0)" font-size="7" text-anchor="middle" font-weight="bold" >Max</text>
<text transform="translate(673.90 141.70) scale(1 1.0)" font-size="7" text-anchor="middle" font-weight="bold" >Min</text>
<line x1="29.60" y1="348.90" x2="33.10" y2="348.90" stroke="#111" stroke-width="1.6" />
<text transform="translate(28.50 352.20) scale(1 1.08)" font-size="9.3" text-anchor="end" font-weight="bold" >0</text>
<line x1="29.60" y1="324.10" x2="33.10" y2="324.10" stroke="#111" stroke-width="1.6" />
<text transform="translate(28.50 327.40) scale(1 1.08)" font-size="9.3" text-anchor="end" font-weight="bold" >5</text>
<line x1="29.60" y1="299.30" x2="33.10" y2="299.30" stroke="#111" stroke-width="1.6" />
<text transform="translate(28.50 302.60) scale(1 1.08)" font-size="9.3" text-anchor="end" font-weight="bold" >10</text>
<line x1="29.60" y1="274.50" x2="33.10" y2="274.50" stroke="#111" stroke-width="1.6" />
<text transform="translate(28.50 277.80) scale(1 1.08)" font-size="9.3" text-anchor="end" font-weight="bold" >15</text>
<line x1="29.60" y1="249.70" x2="33.10" y2="249.70" stroke="#111" stroke-width="1.6" />
<text transform="translate(28.50 253.00) scale(1 1.08)" font-size="9.3" text-anchor="end" font-weight="bold" >20</text>
<line x1="29.60" y1="224.90" x2="33.10" y2="224.90" stroke="#111" stroke-width="1.6" />
<text transform="translate(28.50 228.20) scale(1 1.08)" font-size="9.3" text-anchor="end" font-weight="bold" >25</text>
<line x1="29.60" y1="200.10" x2="33.10" y2="200.10" stroke="#111" stroke-width="1.6" />
<text transform="translate(28.50 203.40) scale(1 1.08)" font-size="9.3" text-anchor="end" font-weight="bold" >30</text>
<line x1="31.10" y1="336.50" x2="33.10" y2="336.50" stroke="#111" stroke-width="1.6" />
<line x1="31.10" y1="311.70" x2="33.10" y2="311.70" stroke="#111" stroke-width="1.6" />
<line x1="31.10" y1="286.90" x2="33.10" y2="286.90" stroke="#111" stroke-width="1.6" />
<line x1="31.10" y1="262.10" x2="33.10" y2="262.10" stroke="#111" stroke-width="1.6" />
<line x1="31.10" y1="237.30" x2="33.10" y2="237.30" stroke="#111" stroke-width="1.6" />
<line x1="31.10" y1="212.50" x2="33.10" y2="212.50" stroke="#111" stroke-width="1.6" />
<line x1="53.10" y1="348.90" x2="53.10" y2="352.70" stroke="#111" stroke-width="1.6" />
<rect x="44.40" y="322.22" width="17.4" height="26.68" fill="#fde2c8" stroke="#ff8a1c" stroke-width="1.4"/>
<line x1="53.10" y1="315.32" x2="53.10" y2="327.82" stroke="#ff8a1c" stroke-width="1.2" />
<line x1="48.80" y1="315.32" x2="57.40" y2="315.32" stroke="#ff8a1c" stroke-width="1.2" />
<line x1="48.80" y1="327.82" x2="57.40" y2="327.82" stroke="#ff8a1c" stroke-width="1.2" />
<circle cx="53.20" cy="315.32" r="2.7" fill="#fde2c8" stroke="#ff8a1c" stroke-width="1.1"/>
<circle cx="56.90" cy="320.88" r="2.7" fill="#fde2c8" stroke="#ff8a1c" stroke-width="1.1"/>
<circle cx="49.10" cy="327.82" r="2.7" fill="#fde2c8" stroke="#ff8a1c" stroke-width="1.1"/>
<line x1="89.90" y1="348.90" x2="89.90" y2="352.70" stroke="#111" stroke-width="1.6" />
<rect x="81.20" y="236.31" width="17.4" height="112.59" fill="#fde2c8" stroke="#ff8a1c" stroke-width="1.4"/>
<line x1="89.90" y1="217.46" x2="89.90" y2="253.67" stroke="#ff8a1c" stroke-width="1.2" />
<line x1="85.60" y1="217.46" x2="94.20" y2="217.46" stroke="#ff8a1c" stroke-width="1.2" />
<line x1="85.60" y1="253.67" x2="94.20" y2="253.67" stroke="#ff8a1c" stroke-width="1.2" />
<circle cx="85.80" cy="222.92" r="2.7" fill="#fde2c8" stroke="#ff8a1c" stroke-width="1.1"/>
<circle cx="93.50" cy="227.38" r="2.7" fill="#fde2c8" stroke="#ff8a1c" stroke-width="1.1"/>
<circle cx="89.40" cy="256.15" r="2.7" fill="#fde2c8" stroke="#ff8a1c" stroke-width="1.1"/>
<line x1="126.30" y1="348.90" x2="126.30" y2="352.70" stroke="#111" stroke-width="1.6" />
<rect x="117.60" y="301.09" width="17.4" height="47.81" fill="#fde2c8" stroke="#ff8a1c" stroke-width="1.4"/>
<line x1="126.30" y1="285.41" x2="126.30" y2="315.52" stroke="#ff8a1c" stroke-width="1.2" />
<line x1="122.00" y1="285.41" x2="130.60" y2="285.41" stroke="#ff8a1c" stroke-width="1.2" />
<line x1="122.00" y1="315.52" x2="130.60" y2="315.52" stroke="#ff8a1c" stroke-width="1.2" />
<circle cx="126.30" cy="285.41" r="2.7" fill="#fde2c8" stroke="#ff8a1c" stroke-width="1.1"/>
<circle cx="126.30" cy="300.99" r="2.7" fill="#fde2c8" stroke="#ff8a1c" stroke-width="1.1"/>
<circle cx="126.30" cy="315.52" r="2.7" fill="#fde2c8" stroke="#ff8a1c" stroke-width="1.1"/>
<line x1="163.00" y1="348.90" x2="163.00" y2="352.70" stroke="#111" stroke-width="1.6" />
<rect x="154.30" y="322.22" width="17.4" height="26.68" fill="#fde2c8" stroke="#ff8a1c" stroke-width="1.4"/>
<line x1="163.00" y1="314.92" x2="163.00" y2="328.07" stroke="#ff8a1c" stroke-width="1.2" />
<line x1="158.70" y1="314.92" x2="167.30" y2="314.92" stroke="#ff8a1c" stroke-width="1.2" />
<line x1="158.70" y1="328.07" x2="167.30" y2="328.07" stroke="#ff8a1c" stroke-width="1.2" />
<circle cx="163.00" cy="314.92" r="2.7" fill="#fde2c8" stroke="#ff8a1c" stroke-width="1.1"/>
<circle cx="167.00" cy="322.12" r="2.7" fill="#fde2c8" stroke="#ff8a1c" stroke-width="1.1"/>
<circle cx="158.80" cy="328.07" r="2.7" fill="#fde2c8" stroke="#ff8a1c" stroke-width="1.1"/>
<line x1="199.40" y1="348.90" x2="199.40" y2="352.70" stroke="#111" stroke-width="1.6" />
<rect x="190.70" y="299.50" width="17.4" height="49.40" fill="#fde2c8" stroke="#ff8a1c" stroke-width="1.4"/>
<line x1="199.40" y1="287.89" x2="199.40" y2="309.22" stroke="#ff8a1c" stroke-width="1.2" />
<line x1="195.10" y1="287.89" x2="203.70" y2="287.89" stroke="#ff8a1c" stroke-width="1.2" />
<line x1="195.10" y1="309.22" x2="203.70" y2="309.22" stroke="#ff8a1c" stroke-width="1.2" />
<circle cx="199.40" cy="287.89" r="2.7" fill="#fde2c8" stroke="#ff8a1c" stroke-width="1.1"/>
<circle cx="199.40" cy="299.30" r="2.7" fill="#fde2c8" stroke="#ff8a1c" stroke-width="1.1"/>
<circle cx="199.40" cy="309.22" r="2.7" fill="#fde2c8" stroke="#ff8a1c" stroke-width="1.1"/>
<path d="M33.1,199.5 H220.2 V348.9 H33.1 Z" fill="none" stroke="#111" stroke-width="1.6"/>
<text transform="translate(53.10 363.30) scale(1 1.0)" font-size="9.5" text-anchor="middle" font-weight="bold" >H</text>
<text transform="translate(89.90 363.30) scale(1 1.0)" font-size="9.5" text-anchor="middle" font-weight="bold" >Li</text>
<text transform="translate(126.30 363.30) scale(1 1.0)" font-size="9.5" text-anchor="middle" font-weight="bold" >Sp</text>
<text transform="translate(163.00 363.30) scale(1 1.0)" font-size="9.5" text-anchor="middle" font-weight="bold" >Lu</text>
<text transform="translate(199.40 363.30) scale(1 1.0)" font-size="9.5" text-anchor="middle" font-weight="bold" >Ki</text>
<text transform="translate(12.2 274.8) rotate(-90) scale(1.07 1)" font-size="8.9" text-anchor="middle" font-weight="bold">%ID/g</text>
<line x1="262.90" y1="349.60" x2="266.40" y2="349.60" stroke="#111" stroke-width="1.6" />
<text transform="translate(261.80 352.90) scale(1 1.08)" font-size="9.3" text-anchor="end" font-weight="bold" >0</text>
<line x1="262.90" y1="319.70" x2="266.40" y2="319.70" stroke="#111" stroke-width="1.6" />
<text transform="translate(261.80 323.00) scale(1 1.08)" font-size="9.3" text-anchor="end" font-weight="bold" >60</text>
<line x1="262.90" y1="289.80" x2="266.40" y2="289.80" stroke="#111" stroke-width="1.6" />
<text transform="translate(261.80 293.10) scale(1 1.08)" font-size="9.3" text-anchor="end" font-weight="bold" >120</text>
<line x1="262.90" y1="259.91" x2="266.40" y2="259.91" stroke="#111" stroke-width="1.6" />
<text transform="translate(261.80 263.21) scale(1 1.08)" font-size="9.3" text-anchor="end" font-weight="bold" >180</text>
<line x1="262.90" y1="230.01" x2="266.40" y2="230.01" stroke="#111" stroke-width="1.6" />
<text transform="translate(261.80 233.31) scale(1 1.08)" font-size="9.3" text-anchor="end" font-weight="bold" >240</text>
<line x1="262.90" y1="200.11" x2="266.40" y2="200.11" stroke="#111" stroke-width="1.6" />
<text transform="translate(261.80 203.41) scale(1 1.08)" font-size="9.3" text-anchor="end" font-weight="bold" >300</text>
<line x1="282.20" y1="349.60" x2="282.20" y2="353.40" stroke="#111" stroke-width="1.6" />
<rect x="274.45" y="325.48" width="15.5" height="24.12" fill="#fde0e0" stroke="#f77a7a" stroke-width="1.4"/>
<line x1="282.20" y1="320.70" x2="282.20" y2="328.67" stroke="#f77a7a" stroke-width="1.2" />
<line x1="277.90" y1="320.70" x2="286.50" y2="320.70" stroke="#f77a7a" stroke-width="1.2" />
<line x1="277.90" y1="328.67" x2="286.50" y2="328.67" stroke="#f77a7a" stroke-width="1.2" />
<circle cx="278.60" cy="328.67" r="2.7" fill="#fde0e0" stroke="#f77a7a" stroke-width="1.1"/>
<circle cx="282.40" cy="319.20" r="2.7" fill="#fde0e0" stroke="#f77a7a" stroke-width="1.1"/>
<circle cx="286.30" cy="325.68" r="2.7" fill="#fde0e0" stroke="#f77a7a" stroke-width="1.1"/>
<line x1="308.00" y1="349.60" x2="308.00" y2="353.40" stroke="#111" stroke-width="1.6" />
<rect x="300.25" y="246.50" width="15.5" height="103.10" fill="#fde2c8" stroke="#ff8a1c" stroke-width="1.4"/>
<line x1="308.00" y1="228.81" x2="308.00" y2="263.10" stroke="#ff8a1c" stroke-width="1.2" />
<line x1="303.70" y1="228.81" x2="312.30" y2="228.81" stroke="#ff8a1c" stroke-width="1.2" />
<line x1="303.70" y1="263.10" x2="312.30" y2="263.10" stroke="#ff8a1c" stroke-width="1.2" />
<circle cx="308.00" cy="227.72" r="2.7" fill="#fde2c8" stroke="#ff8a1c" stroke-width="1.1"/>
<circle cx="308.00" cy="249.29" r="2.7" fill="#fde2c8" stroke="#ff8a1c" stroke-width="1.1"/>
<circle cx="308.00" cy="261.70" r="2.7" fill="#fde2c8" stroke="#ff8a1c" stroke-width="1.1"/>
<line x1="334.00" y1="349.60" x2="334.00" y2="353.40" stroke="#111" stroke-width="1.6" />
<rect x="326.25" y="263.39" width="15.5" height="86.21" fill="#d2d2d2" stroke="#8a8a8a" stroke-width="1.4"/>
<line x1="334.00" y1="261.90" x2="334.00" y2="264.39" stroke="#8a8a8a" stroke-width="1.2" />
<line x1="329.70" y1="261.90" x2="338.30" y2="261.90" stroke="#8a8a8a" stroke-width="1.2" />
<line x1="329.70" y1="264.39" x2="338.30" y2="264.39" stroke="#8a8a8a" stroke-width="1.2" />
<circle cx="329.90" cy="261.60" r="2.7" fill="#d2d2d2" stroke="#8a8a8a" stroke-width="1.1"/>
<circle cx="333.90" cy="263.99" r="2.7" fill="#d2d2d2" stroke="#8a8a8a" stroke-width="1.1"/>
<circle cx="338.20" cy="261.60" r="2.7" fill="#d2d2d2" stroke="#8a8a8a" stroke-width="1.1"/>
<line x1="359.70" y1="349.60" x2="359.70" y2="353.40" stroke="#111" stroke-width="1.6" />
<rect x="351.95" y="262.70" width="15.5" height="86.90" fill="#ecccf6" stroke="#b65ee0" stroke-width="1.4"/>
<line x1="359.70" y1="251.48" x2="359.70" y2="271.37" stroke="#b65ee0" stroke-width="1.2" />
<line x1="355.40" y1="251.48" x2="364.00" y2="251.48" stroke="#b65ee0" stroke-width="1.2" />
<line x1="355.40" y1="271.37" x2="364.00" y2="271.37" stroke="#b65ee0" stroke-width="1.2" />
<circle cx="359.70" cy="249.44" r="2.7" fill="#ecccf6" stroke="#b65ee0" stroke-width="1.1"/>
<circle cx="363.20" cy="264.39" r="2.7" fill="#ecccf6" stroke="#b65ee0" stroke-width="1.1"/>
<circle cx="355.80" cy="269.87" r="2.7" fill="#ecccf6" stroke="#b65ee0" stroke-width="1.1"/>
<line x1="385.30" y1="349.60" x2="385.30" y2="353.40" stroke="#111" stroke-width="1.6" />
<rect x="377.55" y="294.99" width="15.5" height="54.61" fill="#ccffcc" stroke="#22e622" stroke-width="1.4"/>
<line x1="385.30" y1="284.22" x2="385.30" y2="306.20" stroke="#22e622" stroke-width="1.2" />
<line x1="381.00" y1="284.22" x2="389.60" y2="284.22" stroke="#22e622" stroke-width="1.2" />
<line x1="381.00" y1="306.20" x2="389.60" y2="306.20" stroke="#22e622" stroke-width="1.2" />
<circle cx="385.30" cy="282.33" r="2.7" fill="#ccffcc" stroke="#22e622" stroke-width="1.1"/>
<circle cx="389.20" cy="299.97" r="2.7" fill="#ccffcc" stroke="#22e622" stroke-width="1.1"/>
<circle cx="381.50" cy="302.96" r="2.7" fill="#ccffcc" stroke="#22e622" stroke-width="1.1"/>
<line x1="411.00" y1="349.60" x2="411.00" y2="353.40" stroke="#111" stroke-width="1.6" />
<rect x="403.25" y="294.99" width="15.5" height="54.61" fill="#bdbdfc" stroke="#5454f2" stroke-width="1.4"/>
<line x1="411.00" y1="293.79" x2="411.00" y2="296.78" stroke="#5454f2" stroke-width="1.2" />
<line x1="406.70" y1="293.79" x2="415.30" y2="293.79" stroke="#5454f2" stroke-width="1.2" />
<line x1="406.70" y1="296.78" x2="415.30" y2="296.78" stroke="#5454f2" stroke-width="1.2" />
<circle cx="406.80" cy="293.59" r="2.7" fill="#bdbdfc" stroke="#5454f2" stroke-width="1.1"/>
<circle cx="410.80" cy="296.98" r="2.7" fill="#bdbdfc" stroke="#5454f2" stroke-width="1.1"/>
<circle cx="415.30" cy="294.29" r="2.7" fill="#bdbdfc" stroke="#5454f2" stroke-width="1.1"/>
<line x1="437.00" y1="349.60" x2="437.00" y2="353.40" stroke="#111" stroke-width="1.6" />
<rect x="429.25" y="304.75" width="15.5" height="44.85" fill="#cadcf8" stroke="#6eaaf2" stroke-width="1.4"/>
<line x1="437.00" y1="302.76" x2="437.00" y2="306.75" stroke="#6eaaf2" stroke-width="1.2" />
<line x1="432.70" y1="302.76" x2="441.30" y2="302.76" stroke="#6eaaf2" stroke-width="1.2" />
<line x1="432.70" y1="306.75" x2="441.30" y2="306.75" stroke="#6eaaf2" stroke-width="1.2" />
<circle cx="432.40" cy="302.71" r="2.7" fill="#cadcf8" stroke="#6eaaf2" stroke-width="1.1"/>
<circle cx="436.50" cy="307.79" r="2.7" fill="#cadcf8" stroke="#6eaaf2" stroke-width="1.1"/>
<circle cx="441.40" cy="303.11" r="2.7" fill="#cadcf8" stroke="#6eaaf2" stroke-width="1.1"/>
<path d="M266.4,200.4 H453.3 V349.6 H266.4 Z" fill="none" stroke="#111" stroke-width="1.6"/>
<text transform="translate(239.0 274.7) rotate(-90) scale(1.07 1)" font-size="9.2" text-anchor="middle" font-weight="bold">ALT (U/L)</text>
<path d="M311.4,215.0 V212.7 H413.8 V215.0" fill="none" stroke="#111" stroke-width="1.2"/>
<text transform="translate(359.7 210.8) scale(1 1.07)" font-size="9" text-anchor="middle" font-weight="bold"><tspan font-size="8" dy="-1">***</tspan><tspan font-style="italic" dy="1">P</tspan> = 0.0001</text>
<path d="M337.3,231.10000000000002 V228.8 H413.8 V231.10000000000002" fill="none" stroke="#111" stroke-width="1.2"/>
<text transform="translate(373.2 227.4) scale(1 1.07)" font-size="9" text-anchor="middle" font-weight="bold"><tspan font-size="8" dy="-1">**</tspan><tspan font-style="italic" dy="1">P</tspan> = 0.0071</text>
<path d="M360.4,246.20000000000002 V243.9 H413.8 V246.20000000000002" fill="none" stroke="#111" stroke-width="1.2"/>
<text transform="translate(387.0 242.0) scale(1 1.07)" font-size="9" text-anchor="middle" font-weight="bold"><tspan font-size="8" dy="-1">**</tspan><tspan font-style="italic" dy="1">P</tspan> = 0.0053</text>
<text transform="translate(284.80 361.20) scale(1 1.07) rotate(-45)" font-size="9.3" text-anchor="end" font-weight="bold">Untreated</text>
<text transform="translate(310.60 361.20) scale(1 1.07) rotate(-45)" font-size="9.3" text-anchor="end" font-weight="bold">PBS</text>
<text transform="translate(336.60 361.20) scale(1 1.07) rotate(-45)" font-size="9.3" text-anchor="end" font-weight="bold">Pt@ZIF</text>
<text transform="translate(362.30 361.20) scale(1 1.07) rotate(-45)" font-size="9.3" text-anchor="end" font-weight="bold">iNOS@ZIF</text>
<text transform="translate(387.90 361.20) scale(1 1.07) rotate(-45)" font-size="9.3" text-anchor="end" font-weight="bold">iNOS@ZIF+Pt@ZIF</text>
<text transform="translate(413.60 361.20) scale(1 1.07) rotate(-45)" font-size="9.3" text-anchor="end" font-weight="bold">Pt-iNOS@ZIF</text>
<text transform="translate(439.60 361.20) scale(1 1.07) rotate(-45)" font-size="9.3" text-anchor="end" font-weight="bold">NAC</text>
<line x1="299.90" y1="431.00" x2="445.80" y2="431.00" stroke="#111" stroke-width="1.3" />
<text transform="translate(373.60 443.60) scale(1 1.0)" font-size="9" text-anchor="middle" font-weight="bold" >IRI</text>
<line x1="493.50" y1="346.90" x2="497.00" y2="346.90" stroke="#111" stroke-width="1.6" />
<text transform="translate(492.40 350.20) scale(1 1.08)" font-size="9.3" text-anchor="end" font-weight="bold" >0</text>
<line x1="493.50" y1="309.61" x2="497.00" y2="309.61" stroke="#111" stroke-width="1.6" />
<text transform="translate(492.40 312.91) scale(1 1.08)" font-size="9.3" text-anchor="end" font-weight="bold" >300</text>
<line x1="493.50" y1="272.32" x2="497.00" y2="272.32" stroke="#111" stroke-width="1.6" />
<text transform="translate(492.40 275.62) scale(1 1.08)" font-size="9.3" text-anchor="end" font-weight="bold" >600</text>
<line x1="493.50" y1="235.03" x2="497.00" y2="235.03" stroke="#111" stroke-width="1.6" />
<text transform="translate(492.40 238.33) scale(1 1.08)" font-size="9.3" text-anchor="end" font-weight="bold" >900</text>
<line x1="493.50" y1="197.74" x2="497.00" y2="197.74" stroke="#111" stroke-width="1.6" />
<text transform="translate(492.40 201.04) scale(1 1.08)" font-size="9.3" text-anchor="end" font-weight="bold" >1200</text>
<line x1="513.30" y1="346.90" x2="513.30" y2="350.70" stroke="#111" stroke-width="1.6" />
<rect x="505.65" y="326.07" width="15.3" height="20.83" fill="#fde0e0" stroke="#f77a7a" stroke-width="1.4"/>
<line x1="513.30" y1="319.18" x2="513.30" y2="331.98" stroke="#f77a7a" stroke-width="1.2" />
<line x1="509.00" y1="319.18" x2="517.60" y2="319.18" stroke="#f77a7a" stroke-width="1.2" />
<line x1="509.00" y1="331.98" x2="517.60" y2="331.98" stroke="#f77a7a" stroke-width="1.2" />
<circle cx="509.20" cy="321.29" r="2.7" fill="#fde0e0" stroke="#f77a7a" stroke-width="1.1"/>
<circle cx="517.00" cy="321.29" r="2.7" fill="#fde0e0" stroke="#f77a7a" stroke-width="1.1"/>
<circle cx="513.10" cy="333.23" r="2.7" fill="#fde0e0" stroke="#f77a7a" stroke-width="1.1"/>
<line x1="539.00" y1="346.90" x2="539.00" y2="350.70" stroke="#111" stroke-width="1.6" />
<rect x="531.35" y="277.79" width="15.3" height="69.11" fill="#fde2c8" stroke="#ff8a1c" stroke-width="1.4"/>
<line x1="539.00" y1="258.03" x2="539.00" y2="296.60" stroke="#ff8a1c" stroke-width="1.2" />
<line x1="534.70" y1="258.03" x2="543.30" y2="258.03" stroke="#ff8a1c" stroke-width="1.2" />
<line x1="534.70" y1="296.60" x2="543.30" y2="296.60" stroke="#ff8a1c" stroke-width="1.2" />
<circle cx="539.00" cy="254.55" r="2.7" fill="#fde2c8" stroke="#ff8a1c" stroke-width="1.1"/>
<circle cx="534.60" cy="288.48" r="2.7" fill="#fde2c8" stroke="#ff8a1c" stroke-width="1.1"/>
<circle cx="542.70" cy="288.48" r="2.7" fill="#fde2c8" stroke="#ff8a1c" stroke-width="1.1"/>
<line x1="565.00" y1="346.90" x2="565.00" y2="350.70" stroke="#111" stroke-width="1.6" />
<rect x="557.35" y="265.73" width="15.3" height="81.17" fill="#d2d2d2" stroke="#8a8a8a" stroke-width="1.4"/>
<line x1="565.00" y1="234.28" x2="565.00" y2="295.94" stroke="#8a8a8a" stroke-width="1.2" />
<line x1="560.70" y1="234.28" x2="569.30" y2="234.28" stroke="#8a8a8a" stroke-width="1.2" />
<line x1="560.70" y1="295.94" x2="569.30" y2="295.94" stroke="#8a8a8a" stroke-width="1.2" />
<circle cx="565.00" cy="229.69" r="2.7" fill="#d2d2d2" stroke="#8a8a8a" stroke-width="1.1"/>
<circle cx="568.60" cy="279.65" r="2.7" fill="#d2d2d2" stroke="#8a8a8a" stroke-width="1.1"/>
<circle cx="561.10" cy="285.99" r="2.7" fill="#d2d2d2" stroke="#8a8a8a" stroke-width="1.1"/>
<line x1="590.40" y1="346.90" x2="590.40" y2="350.70" stroke="#111" stroke-width="1.6" />
<rect x="582.75" y="285.25" width="15.3" height="61.65" fill="#ecccf6" stroke="#b65ee0" stroke-width="1.4"/>
<line x1="590.40" y1="268.09" x2="590.40" y2="301.41" stroke="#b65ee0" stroke-width="1.2" />
<line x1="586.10" y1="268.09" x2="594.70" y2="268.09" stroke="#b65ee0" stroke-width="1.2" />
<line x1="586.10" y1="301.41" x2="594.70" y2="301.41" stroke="#b65ee0" stroke-width="1.2" />
<circle cx="590.40" cy="269.09" r="2.7" fill="#ecccf6" stroke="#b65ee0" stroke-width="1.1"/>
<circle cx="590.40" cy="281.27" r="2.7" fill="#ecccf6" stroke="#b65ee0" stroke-width="1.1"/>
<circle cx="590.40" cy="302.52" r="2.7" fill="#ecccf6" stroke="#b65ee0" stroke-width="1.1"/>
<line x1="616.20" y1="346.90" x2="616.20" y2="350.70" stroke="#111" stroke-width="1.6" />
<rect x="608.55" y="306.38" width="15.3" height="40.52" fill="#ccffcc" stroke="#22e622" stroke-width="1.4"/>
<line x1="616.20" y1="280.15" x2="616.20" y2="330.74" stroke="#22e622" stroke-width="1.2" />
<line x1="611.90" y1="280.15" x2="620.50" y2="280.15" stroke="#22e622" stroke-width="1.2" />
<line x1="611.90" y1="330.74" x2="620.50" y2="330.74" stroke="#22e622" stroke-width="1.2" />
<circle cx="616.20" cy="276.42" r="2.7" fill="#ccffcc" stroke="#22e622" stroke-width="1.1"/>
<circle cx="612.20" cy="321.92" r="2.7" fill="#ccffcc" stroke="#22e622" stroke-width="1.1"/>
<circle cx="620.30" cy="317.94" r="2.7" fill="#ccffcc" stroke="#22e622" stroke-width="1.1"/>
<line x1="642.00" y1="346.90" x2="642.00" y2="350.70" stroke="#111" stroke-width="1.6" />
<rect x="634.35" y="309.86" width="15.3" height="37.04" fill="#bdbdfc" stroke="#5454f2" stroke-width="1.4"/>
<line x1="642.00" y1="291.34" x2="642.00" y2="328.38" stroke="#5454f2" stroke-width="1.2" />
<line x1="637.70" y1="291.34" x2="646.30" y2="291.34" stroke="#5454f2" stroke-width="1.2" />
<line x1="637.70" y1="328.38" x2="646.30" y2="328.38" stroke="#5454f2" stroke-width="1.2" />
<circle cx="638.00" cy="298.67" r="2.7" fill="#bdbdfc" stroke="#5454f2" stroke-width="1.1"/>
<circle cx="645.70" cy="298.67" r="2.7" fill="#bdbdfc" stroke="#5454f2" stroke-width="1.1"/>
<circle cx="642.00" cy="330.12" r="2.7" fill="#bdbdfc" stroke="#5454f2" stroke-width="1.1"/>
<line x1="668.00" y1="346.90" x2="668.00" y2="350.70" stroke="#111" stroke-width="1.6" />
<rect x="660.35" y="307.00" width="15.3" height="39.90" fill="#cadcf8" stroke="#6eaaf2" stroke-width="1.4"/>
<line x1="668.00" y1="299.04" x2="668.00" y2="314.95" stroke="#6eaaf2" stroke-width="1.2" />
<line x1="663.70" y1="299.04" x2="672.30" y2="299.04" stroke="#6eaaf2" stroke-width="1.2" />
<line x1="663.70" y1="314.95" x2="672.30" y2="314.95" stroke="#6eaaf2" stroke-width="1.2" />
<circle cx="668.00" cy="297.68" r="2.7" fill="#cadcf8" stroke="#6eaaf2" stroke-width="1.1"/>
<circle cx="671.40" cy="307.75" r="2.7" fill="#cadcf8" stroke="#6eaaf2" stroke-width="1.1"/>
<circle cx="663.90" cy="314.46" r="2.7" fill="#cadcf8" stroke="#6eaaf2" stroke-width="1.1"/>
<path d="M497.0,197.6 H683.4 V346.9 H497.0 Z" fill="none" stroke="#111" stroke-width="1.6"/>
<text transform="translate(469.2 272) rotate(-90) scale(1.07 1)" font-size="9.2" text-anchor="middle" font-weight="bold">AST (U/L)</text>
<path d="M564.9,224.0 V221.6 H640.4 V224.0" fill="none" stroke="#111" stroke-width="1.2"/>
<text transform="translate(602.5 217.3) scale(1 1.07)" font-size="9" text-anchor="middle" font-weight="bold"><tspan font-size="8" dy="-1">*</tspan><tspan font-style="italic" dy="1">P</tspan> = 0.015</text>
<text transform="translate(515.90 358.50) scale(1 1.07) rotate(-45)" font-size="9.3" text-anchor="end" font-weight="bold">Untreated</text>
<text transform="translate(541.60 358.50) scale(1 1.07) rotate(-45)" font-size="9.3" text-anchor="end" font-weight="bold">PBS</text>
<text transform="translate(567.60 358.50) scale(1 1.07) rotate(-45)" font-size="9.3" text-anchor="end" font-weight="bold">Pt@ZIF</text>
<text transform="translate(593.00 358.50) scale(1 1.07) rotate(-45)" font-size="9.3" text-anchor="end" font-weight="bold">iNOS@ZIF</text>
<text transform="translate(618.80 358.50) scale(1 1.07) rotate(-45)" font-size="9.3" text-anchor="end" font-weight="bold">iNOS@ZIF+Pt@ZIF</text>
<text transform="translate(644.60 358.50) scale(1 1.07) rotate(-45)" font-size="9.3" text-anchor="end" font-weight="bold">Pt-iNOS@ZIF</text>
<text transform="translate(670.60 358.50) scale(1 1.07) rotate(-45)" font-size="9.3" text-anchor="end" font-weight="bold">NAC</text>
<line x1="529.00" y1="431.00" x2="675.60" y2="431.00" stroke="#111" stroke-width="1.3" />
<text transform="translate(602.50 443.60) scale(1 1.0)" font-size="9" text-anchor="middle" font-weight="bold" >IRI</text>
</svg></body></html>
